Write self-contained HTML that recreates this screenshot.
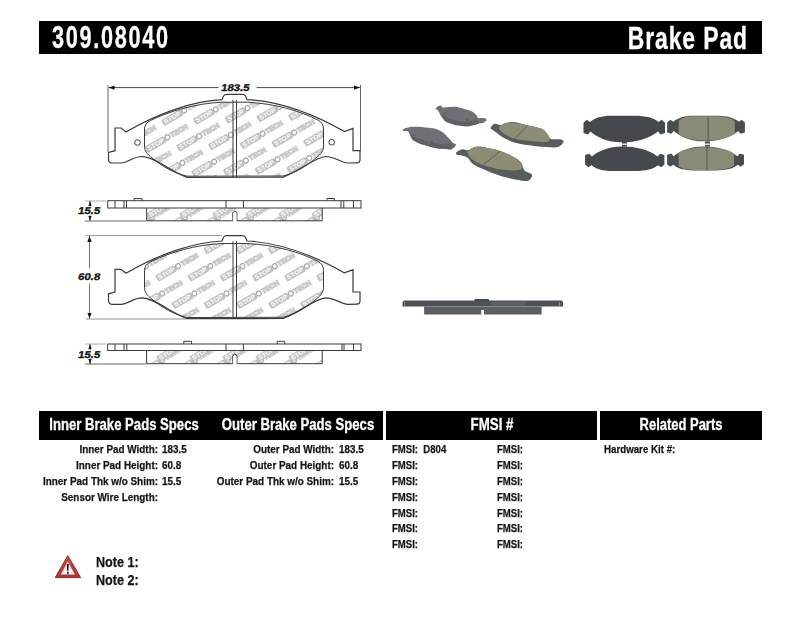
<!DOCTYPE html>
<html><head><meta charset="utf-8">
<style>
html,body{margin:0;padding:0;background:#fff;}
body{width:800px;height:619px;position:relative;overflow:hidden;font-family:"Liberation Sans",sans-serif;}
.bar{position:absolute;background:#000;}
.t{position:absolute;white-space:nowrap;font-family:"Liberation Sans",sans-serif;font-weight:bold;line-height:1;}
.w{color:#fff;-webkit-text-stroke:0.3px #fff;}
.k{color:#141414;-webkit-text-stroke:0.25px #141414;}
.c{text-align:center;transform-origin:50% 0;}
.r{text-align:right;transform-origin:100% 0;}
.l{transform-origin:0 0;}
svg{position:absolute;left:0;top:0;}
</style></head><body>
<svg width="800" height="619" viewBox="0 0 800 619">
<defs>
  <path id="pad" d="M115,128 L121,128 L126,132 C160,112 195,101 222,99.7 L223.5,96 Q224.5,94.4 227,94.4 L242,94.4 Q244.5,94.4 245.5,96 L247,99.7 C275,101 310,112 344.5,131.6 L353,128.4 L353,150.7 L360,150.7 L360,159.5 Q360,162.8 357,162.8 L348,163 C341,163 335,156.5 326,156.5 C315,157 300,171 283,177.2 L187,177.4 C170,171 155,157 142,156.5 C133,156.5 128,163 121,163 L112,163 Q108.5,163 108.5,159 L108.5,152.5 L115,150.7 Z"/>
  <path id="fric" d="M150.5,120.5 C170,111 195,103.5 222,102.2 L247,102.2 C275,103.5 300,111 318,120 Q323.5,123 323.5,129 L323.5,146 C323.5,151 321,154 316,158 C305,167 295,173 283,176 L187,176.2 C174,173 163,167 152,158 C147,154 144.5,151 144.5,146 L144.5,129 Q144.5,123.5 150.5,120.5 Z"/>
  <clipPath id="fc1"><use href="#fric"/></clipPath>
  <clipPath id="fc2"><use href="#fric" transform="translate(0,141.3)"/></clipPath>
  <clipPath id="fcA"><rect x="146.6" y="208" width="175.6" height="12.8"/></clipPath>
  <clipPath id="fcB"><rect x="146.6" y="350.5" width="175.6" height="13.2"/></clipPath>
  <marker id="ar" viewBox="0 0 6 6" refX="6" refY="3" markerWidth="6" markerHeight="6" orient="auto-start-reverse" markerUnits="userSpaceOnUse"><path d="M0,0.8 L6,3 L0,5.2 Z" fill="#111"/></marker><marker id="as" viewBox="0 0 5 4" refX="5" refY="2" markerWidth="5" markerHeight="4" orient="auto-start-reverse" markerUnits="userSpaceOnUse"><path d="M0,0.3 L5,2 L0,3.7 Z" fill="#111"/></marker>
</defs>

<!-- ===== Drawing 1 ===== -->
<g clip-path="url(#fc1)"><g transform="translate(99.6,180.4) rotate(-30) scale(1.08)"><rect x="0" y="-5.8" width="19.5" height="5.8" rx="0.8" fill="#c4c4c4" stroke="#acacac" stroke-width="0.5"/><text x="1.3" y="-1" font-family="Liberation Sans" font-weight="bold" font-size="5.8" fill="#fff" textLength="17" lengthAdjust="spacingAndGlyphs">STOP</text><circle cx="22.6" cy="-3.1" r="2.3" fill="#fff" stroke="#acacac" stroke-width="1.3"/><rect x="25.6" y="-6" width="19" height="5.8" fill="#f2f2f2"/><text x="26" y="-0.9" font-family="Liberation Sans" font-weight="bold" font-size="6.4" fill="#fbfbfb" stroke="#c0c0c0" stroke-width="0.65" textLength="17.5" lengthAdjust="spacingAndGlyphs">TECH</text></g><g transform="translate(101.3,128) rotate(-30) scale(1.08)"><rect x="0" y="-5.8" width="19.5" height="5.8" rx="0.8" fill="#c4c4c4" stroke="#acacac" stroke-width="0.5"/><text x="1.3" y="-1" font-family="Liberation Sans" font-weight="bold" font-size="5.8" fill="#fff" textLength="17" lengthAdjust="spacingAndGlyphs">STOP</text><circle cx="22.6" cy="-3.1" r="2.3" fill="#fff" stroke="#acacac" stroke-width="1.3"/><rect x="25.6" y="-6" width="19" height="5.8" fill="#f2f2f2"/><text x="26" y="-0.9" font-family="Liberation Sans" font-weight="bold" font-size="6.4" fill="#fbfbfb" stroke="#c0c0c0" stroke-width="0.65" textLength="17.5" lengthAdjust="spacingAndGlyphs">TECH</text></g><g transform="translate(116.3,153.6) rotate(-30) scale(1.08)"><rect x="0" y="-5.8" width="19.5" height="5.8" rx="0.8" fill="#c4c4c4" stroke="#acacac" stroke-width="0.5"/><text x="1.3" y="-1" font-family="Liberation Sans" font-weight="bold" font-size="5.8" fill="#fff" textLength="17" lengthAdjust="spacingAndGlyphs">STOP</text><circle cx="22.6" cy="-3.1" r="2.3" fill="#fff" stroke="#acacac" stroke-width="1.3"/><rect x="25.6" y="-6" width="19" height="5.8" fill="#f2f2f2"/><text x="26" y="-0.9" font-family="Liberation Sans" font-weight="bold" font-size="6.4" fill="#fbfbfb" stroke="#c0c0c0" stroke-width="0.65" textLength="17.5" lengthAdjust="spacingAndGlyphs">TECH</text></g><g transform="translate(131.3,179.2) rotate(-30) scale(1.08)"><rect x="0" y="-5.8" width="19.5" height="5.8" rx="0.8" fill="#c4c4c4" stroke="#acacac" stroke-width="0.5"/><text x="1.3" y="-1" font-family="Liberation Sans" font-weight="bold" font-size="5.8" fill="#fff" textLength="17" lengthAdjust="spacingAndGlyphs">STOP</text><circle cx="22.6" cy="-3.1" r="2.3" fill="#fff" stroke="#acacac" stroke-width="1.3"/><rect x="25.6" y="-6" width="19" height="5.8" fill="#f2f2f2"/><text x="26" y="-0.9" font-family="Liberation Sans" font-weight="bold" font-size="6.4" fill="#fbfbfb" stroke="#c0c0c0" stroke-width="0.65" textLength="17.5" lengthAdjust="spacingAndGlyphs">TECH</text></g><g transform="translate(146.3,204.8) rotate(-30) scale(1.08)"><rect x="0" y="-5.8" width="19.5" height="5.8" rx="0.8" fill="#c4c4c4" stroke="#acacac" stroke-width="0.5"/><text x="1.3" y="-1" font-family="Liberation Sans" font-weight="bold" font-size="5.8" fill="#fff" textLength="17" lengthAdjust="spacingAndGlyphs">STOP</text><circle cx="22.6" cy="-3.1" r="2.3" fill="#fff" stroke="#acacac" stroke-width="1.3"/><rect x="25.6" y="-6" width="19" height="5.8" fill="#f2f2f2"/><text x="26" y="-0.9" font-family="Liberation Sans" font-weight="bold" font-size="6.4" fill="#fbfbfb" stroke="#c0c0c0" stroke-width="0.65" textLength="17.5" lengthAdjust="spacingAndGlyphs">TECH</text></g><g transform="translate(118,101.2) rotate(-30) scale(1.08)"><rect x="0" y="-5.8" width="19.5" height="5.8" rx="0.8" fill="#c4c4c4" stroke="#acacac" stroke-width="0.5"/><text x="1.3" y="-1" font-family="Liberation Sans" font-weight="bold" font-size="5.8" fill="#fff" textLength="17" lengthAdjust="spacingAndGlyphs">STOP</text><circle cx="22.6" cy="-3.1" r="2.3" fill="#fff" stroke="#acacac" stroke-width="1.3"/><rect x="25.6" y="-6" width="19" height="5.8" fill="#f2f2f2"/><text x="26" y="-0.9" font-family="Liberation Sans" font-weight="bold" font-size="6.4" fill="#fbfbfb" stroke="#c0c0c0" stroke-width="0.65" textLength="17.5" lengthAdjust="spacingAndGlyphs">TECH</text></g><g transform="translate(133,126.8) rotate(-30) scale(1.08)"><rect x="0" y="-5.8" width="19.5" height="5.8" rx="0.8" fill="#c4c4c4" stroke="#acacac" stroke-width="0.5"/><text x="1.3" y="-1" font-family="Liberation Sans" font-weight="bold" font-size="5.8" fill="#fff" textLength="17" lengthAdjust="spacingAndGlyphs">STOP</text><circle cx="22.6" cy="-3.1" r="2.3" fill="#fff" stroke="#acacac" stroke-width="1.3"/><rect x="25.6" y="-6" width="19" height="5.8" fill="#f2f2f2"/><text x="26" y="-0.9" font-family="Liberation Sans" font-weight="bold" font-size="6.4" fill="#fbfbfb" stroke="#c0c0c0" stroke-width="0.65" textLength="17.5" lengthAdjust="spacingAndGlyphs">TECH</text></g><g transform="translate(148,152.4) rotate(-30) scale(1.08)"><rect x="0" y="-5.8" width="19.5" height="5.8" rx="0.8" fill="#c4c4c4" stroke="#acacac" stroke-width="0.5"/><text x="1.3" y="-1" font-family="Liberation Sans" font-weight="bold" font-size="5.8" fill="#fff" textLength="17" lengthAdjust="spacingAndGlyphs">STOP</text><circle cx="22.6" cy="-3.1" r="2.3" fill="#fff" stroke="#acacac" stroke-width="1.3"/><rect x="25.6" y="-6" width="19" height="5.8" fill="#f2f2f2"/><text x="26" y="-0.9" font-family="Liberation Sans" font-weight="bold" font-size="6.4" fill="#fbfbfb" stroke="#c0c0c0" stroke-width="0.65" textLength="17.5" lengthAdjust="spacingAndGlyphs">TECH</text></g><g transform="translate(163,178) rotate(-30) scale(1.08)"><rect x="0" y="-5.8" width="19.5" height="5.8" rx="0.8" fill="#c4c4c4" stroke="#acacac" stroke-width="0.5"/><text x="1.3" y="-1" font-family="Liberation Sans" font-weight="bold" font-size="5.8" fill="#fff" textLength="17" lengthAdjust="spacingAndGlyphs">STOP</text><circle cx="22.6" cy="-3.1" r="2.3" fill="#fff" stroke="#acacac" stroke-width="1.3"/><rect x="25.6" y="-6" width="19" height="5.8" fill="#f2f2f2"/><text x="26" y="-0.9" font-family="Liberation Sans" font-weight="bold" font-size="6.4" fill="#fbfbfb" stroke="#c0c0c0" stroke-width="0.65" textLength="17.5" lengthAdjust="spacingAndGlyphs">TECH</text></g><g transform="translate(178,203.6) rotate(-30) scale(1.08)"><rect x="0" y="-5.8" width="19.5" height="5.8" rx="0.8" fill="#c4c4c4" stroke="#acacac" stroke-width="0.5"/><text x="1.3" y="-1" font-family="Liberation Sans" font-weight="bold" font-size="5.8" fill="#fff" textLength="17" lengthAdjust="spacingAndGlyphs">STOP</text><circle cx="22.6" cy="-3.1" r="2.3" fill="#fff" stroke="#acacac" stroke-width="1.3"/><rect x="25.6" y="-6" width="19" height="5.8" fill="#f2f2f2"/><text x="26" y="-0.9" font-family="Liberation Sans" font-weight="bold" font-size="6.4" fill="#fbfbfb" stroke="#c0c0c0" stroke-width="0.65" textLength="17.5" lengthAdjust="spacingAndGlyphs">TECH</text></g><g transform="translate(149.7,100) rotate(-30) scale(1.08)"><rect x="0" y="-5.8" width="19.5" height="5.8" rx="0.8" fill="#c4c4c4" stroke="#acacac" stroke-width="0.5"/><text x="1.3" y="-1" font-family="Liberation Sans" font-weight="bold" font-size="5.8" fill="#fff" textLength="17" lengthAdjust="spacingAndGlyphs">STOP</text><circle cx="22.6" cy="-3.1" r="2.3" fill="#fff" stroke="#acacac" stroke-width="1.3"/><rect x="25.6" y="-6" width="19" height="5.8" fill="#f2f2f2"/><text x="26" y="-0.9" font-family="Liberation Sans" font-weight="bold" font-size="6.4" fill="#fbfbfb" stroke="#c0c0c0" stroke-width="0.65" textLength="17.5" lengthAdjust="spacingAndGlyphs">TECH</text></g><g transform="translate(164.7,125.6) rotate(-30) scale(1.08)"><rect x="0" y="-5.8" width="19.5" height="5.8" rx="0.8" fill="#c4c4c4" stroke="#acacac" stroke-width="0.5"/><text x="1.3" y="-1" font-family="Liberation Sans" font-weight="bold" font-size="5.8" fill="#fff" textLength="17" lengthAdjust="spacingAndGlyphs">STOP</text><circle cx="22.6" cy="-3.1" r="2.3" fill="#fff" stroke="#acacac" stroke-width="1.3"/><rect x="25.6" y="-6" width="19" height="5.8" fill="#f2f2f2"/><text x="26" y="-0.9" font-family="Liberation Sans" font-weight="bold" font-size="6.4" fill="#fbfbfb" stroke="#c0c0c0" stroke-width="0.65" textLength="17.5" lengthAdjust="spacingAndGlyphs">TECH</text></g><g transform="translate(179.7,151.2) rotate(-30) scale(1.08)"><rect x="0" y="-5.8" width="19.5" height="5.8" rx="0.8" fill="#c4c4c4" stroke="#acacac" stroke-width="0.5"/><text x="1.3" y="-1" font-family="Liberation Sans" font-weight="bold" font-size="5.8" fill="#fff" textLength="17" lengthAdjust="spacingAndGlyphs">STOP</text><circle cx="22.6" cy="-3.1" r="2.3" fill="#fff" stroke="#acacac" stroke-width="1.3"/><rect x="25.6" y="-6" width="19" height="5.8" fill="#f2f2f2"/><text x="26" y="-0.9" font-family="Liberation Sans" font-weight="bold" font-size="6.4" fill="#fbfbfb" stroke="#c0c0c0" stroke-width="0.65" textLength="17.5" lengthAdjust="spacingAndGlyphs">TECH</text></g><g transform="translate(194.7,176.8) rotate(-30) scale(1.08)"><rect x="0" y="-5.8" width="19.5" height="5.8" rx="0.8" fill="#c4c4c4" stroke="#acacac" stroke-width="0.5"/><text x="1.3" y="-1" font-family="Liberation Sans" font-weight="bold" font-size="5.8" fill="#fff" textLength="17" lengthAdjust="spacingAndGlyphs">STOP</text><circle cx="22.6" cy="-3.1" r="2.3" fill="#fff" stroke="#acacac" stroke-width="1.3"/><rect x="25.6" y="-6" width="19" height="5.8" fill="#f2f2f2"/><text x="26" y="-0.9" font-family="Liberation Sans" font-weight="bold" font-size="6.4" fill="#fbfbfb" stroke="#c0c0c0" stroke-width="0.65" textLength="17.5" lengthAdjust="spacingAndGlyphs">TECH</text></g><g transform="translate(209.7,202.4) rotate(-30) scale(1.08)"><rect x="0" y="-5.8" width="19.5" height="5.8" rx="0.8" fill="#c4c4c4" stroke="#acacac" stroke-width="0.5"/><text x="1.3" y="-1" font-family="Liberation Sans" font-weight="bold" font-size="5.8" fill="#fff" textLength="17" lengthAdjust="spacingAndGlyphs">STOP</text><circle cx="22.6" cy="-3.1" r="2.3" fill="#fff" stroke="#acacac" stroke-width="1.3"/><rect x="25.6" y="-6" width="19" height="5.8" fill="#f2f2f2"/><text x="26" y="-0.9" font-family="Liberation Sans" font-weight="bold" font-size="6.4" fill="#fbfbfb" stroke="#c0c0c0" stroke-width="0.65" textLength="17.5" lengthAdjust="spacingAndGlyphs">TECH</text></g><g transform="translate(181.4,98.8) rotate(-30) scale(1.08)"><rect x="0" y="-5.8" width="19.5" height="5.8" rx="0.8" fill="#c4c4c4" stroke="#acacac" stroke-width="0.5"/><text x="1.3" y="-1" font-family="Liberation Sans" font-weight="bold" font-size="5.8" fill="#fff" textLength="17" lengthAdjust="spacingAndGlyphs">STOP</text><circle cx="22.6" cy="-3.1" r="2.3" fill="#fff" stroke="#acacac" stroke-width="1.3"/><rect x="25.6" y="-6" width="19" height="5.8" fill="#f2f2f2"/><text x="26" y="-0.9" font-family="Liberation Sans" font-weight="bold" font-size="6.4" fill="#fbfbfb" stroke="#c0c0c0" stroke-width="0.65" textLength="17.5" lengthAdjust="spacingAndGlyphs">TECH</text></g><g transform="translate(196.4,124.4) rotate(-30) scale(1.08)"><rect x="0" y="-5.8" width="19.5" height="5.8" rx="0.8" fill="#c4c4c4" stroke="#acacac" stroke-width="0.5"/><text x="1.3" y="-1" font-family="Liberation Sans" font-weight="bold" font-size="5.8" fill="#fff" textLength="17" lengthAdjust="spacingAndGlyphs">STOP</text><circle cx="22.6" cy="-3.1" r="2.3" fill="#fff" stroke="#acacac" stroke-width="1.3"/><rect x="25.6" y="-6" width="19" height="5.8" fill="#f2f2f2"/><text x="26" y="-0.9" font-family="Liberation Sans" font-weight="bold" font-size="6.4" fill="#fbfbfb" stroke="#c0c0c0" stroke-width="0.65" textLength="17.5" lengthAdjust="spacingAndGlyphs">TECH</text></g><g transform="translate(211.4,150) rotate(-30) scale(1.08)"><rect x="0" y="-5.8" width="19.5" height="5.8" rx="0.8" fill="#c4c4c4" stroke="#acacac" stroke-width="0.5"/><text x="1.3" y="-1" font-family="Liberation Sans" font-weight="bold" font-size="5.8" fill="#fff" textLength="17" lengthAdjust="spacingAndGlyphs">STOP</text><circle cx="22.6" cy="-3.1" r="2.3" fill="#fff" stroke="#acacac" stroke-width="1.3"/><rect x="25.6" y="-6" width="19" height="5.8" fill="#f2f2f2"/><text x="26" y="-0.9" font-family="Liberation Sans" font-weight="bold" font-size="6.4" fill="#fbfbfb" stroke="#c0c0c0" stroke-width="0.65" textLength="17.5" lengthAdjust="spacingAndGlyphs">TECH</text></g><g transform="translate(226.4,175.6) rotate(-30) scale(1.08)"><rect x="0" y="-5.8" width="19.5" height="5.8" rx="0.8" fill="#c4c4c4" stroke="#acacac" stroke-width="0.5"/><text x="1.3" y="-1" font-family="Liberation Sans" font-weight="bold" font-size="5.8" fill="#fff" textLength="17" lengthAdjust="spacingAndGlyphs">STOP</text><circle cx="22.6" cy="-3.1" r="2.3" fill="#fff" stroke="#acacac" stroke-width="1.3"/><rect x="25.6" y="-6" width="19" height="5.8" fill="#f2f2f2"/><text x="26" y="-0.9" font-family="Liberation Sans" font-weight="bold" font-size="6.4" fill="#fbfbfb" stroke="#c0c0c0" stroke-width="0.65" textLength="17.5" lengthAdjust="spacingAndGlyphs">TECH</text></g><g transform="translate(241.4,201.2) rotate(-30) scale(1.08)"><rect x="0" y="-5.8" width="19.5" height="5.8" rx="0.8" fill="#c4c4c4" stroke="#acacac" stroke-width="0.5"/><text x="1.3" y="-1" font-family="Liberation Sans" font-weight="bold" font-size="5.8" fill="#fff" textLength="17" lengthAdjust="spacingAndGlyphs">STOP</text><circle cx="22.6" cy="-3.1" r="2.3" fill="#fff" stroke="#acacac" stroke-width="1.3"/><rect x="25.6" y="-6" width="19" height="5.8" fill="#f2f2f2"/><text x="26" y="-0.9" font-family="Liberation Sans" font-weight="bold" font-size="6.4" fill="#fbfbfb" stroke="#c0c0c0" stroke-width="0.65" textLength="17.5" lengthAdjust="spacingAndGlyphs">TECH</text></g><g transform="translate(213.1,97.6) rotate(-30) scale(1.08)"><rect x="0" y="-5.8" width="19.5" height="5.8" rx="0.8" fill="#c4c4c4" stroke="#acacac" stroke-width="0.5"/><text x="1.3" y="-1" font-family="Liberation Sans" font-weight="bold" font-size="5.8" fill="#fff" textLength="17" lengthAdjust="spacingAndGlyphs">STOP</text><circle cx="22.6" cy="-3.1" r="2.3" fill="#fff" stroke="#acacac" stroke-width="1.3"/><rect x="25.6" y="-6" width="19" height="5.8" fill="#f2f2f2"/><text x="26" y="-0.9" font-family="Liberation Sans" font-weight="bold" font-size="6.4" fill="#fbfbfb" stroke="#c0c0c0" stroke-width="0.65" textLength="17.5" lengthAdjust="spacingAndGlyphs">TECH</text></g><g transform="translate(228.1,123.2) rotate(-30) scale(1.08)"><rect x="0" y="-5.8" width="19.5" height="5.8" rx="0.8" fill="#c4c4c4" stroke="#acacac" stroke-width="0.5"/><text x="1.3" y="-1" font-family="Liberation Sans" font-weight="bold" font-size="5.8" fill="#fff" textLength="17" lengthAdjust="spacingAndGlyphs">STOP</text><circle cx="22.6" cy="-3.1" r="2.3" fill="#fff" stroke="#acacac" stroke-width="1.3"/><rect x="25.6" y="-6" width="19" height="5.8" fill="#f2f2f2"/><text x="26" y="-0.9" font-family="Liberation Sans" font-weight="bold" font-size="6.4" fill="#fbfbfb" stroke="#c0c0c0" stroke-width="0.65" textLength="17.5" lengthAdjust="spacingAndGlyphs">TECH</text></g><g transform="translate(243.1,148.8) rotate(-30) scale(1.08)"><rect x="0" y="-5.8" width="19.5" height="5.8" rx="0.8" fill="#c4c4c4" stroke="#acacac" stroke-width="0.5"/><text x="1.3" y="-1" font-family="Liberation Sans" font-weight="bold" font-size="5.8" fill="#fff" textLength="17" lengthAdjust="spacingAndGlyphs">STOP</text><circle cx="22.6" cy="-3.1" r="2.3" fill="#fff" stroke="#acacac" stroke-width="1.3"/><rect x="25.6" y="-6" width="19" height="5.8" fill="#f2f2f2"/><text x="26" y="-0.9" font-family="Liberation Sans" font-weight="bold" font-size="6.4" fill="#fbfbfb" stroke="#c0c0c0" stroke-width="0.65" textLength="17.5" lengthAdjust="spacingAndGlyphs">TECH</text></g><g transform="translate(258.1,174.4) rotate(-30) scale(1.08)"><rect x="0" y="-5.8" width="19.5" height="5.8" rx="0.8" fill="#c4c4c4" stroke="#acacac" stroke-width="0.5"/><text x="1.3" y="-1" font-family="Liberation Sans" font-weight="bold" font-size="5.8" fill="#fff" textLength="17" lengthAdjust="spacingAndGlyphs">STOP</text><circle cx="22.6" cy="-3.1" r="2.3" fill="#fff" stroke="#acacac" stroke-width="1.3"/><rect x="25.6" y="-6" width="19" height="5.8" fill="#f2f2f2"/><text x="26" y="-0.9" font-family="Liberation Sans" font-weight="bold" font-size="6.4" fill="#fbfbfb" stroke="#c0c0c0" stroke-width="0.65" textLength="17.5" lengthAdjust="spacingAndGlyphs">TECH</text></g><g transform="translate(273.1,200) rotate(-30) scale(1.08)"><rect x="0" y="-5.8" width="19.5" height="5.8" rx="0.8" fill="#c4c4c4" stroke="#acacac" stroke-width="0.5"/><text x="1.3" y="-1" font-family="Liberation Sans" font-weight="bold" font-size="5.8" fill="#fff" textLength="17" lengthAdjust="spacingAndGlyphs">STOP</text><circle cx="22.6" cy="-3.1" r="2.3" fill="#fff" stroke="#acacac" stroke-width="1.3"/><rect x="25.6" y="-6" width="19" height="5.8" fill="#f2f2f2"/><text x="26" y="-0.9" font-family="Liberation Sans" font-weight="bold" font-size="6.4" fill="#fbfbfb" stroke="#c0c0c0" stroke-width="0.65" textLength="17.5" lengthAdjust="spacingAndGlyphs">TECH</text></g><g transform="translate(244.8,96.4) rotate(-30) scale(1.08)"><rect x="0" y="-5.8" width="19.5" height="5.8" rx="0.8" fill="#c4c4c4" stroke="#acacac" stroke-width="0.5"/><text x="1.3" y="-1" font-family="Liberation Sans" font-weight="bold" font-size="5.8" fill="#fff" textLength="17" lengthAdjust="spacingAndGlyphs">STOP</text><circle cx="22.6" cy="-3.1" r="2.3" fill="#fff" stroke="#acacac" stroke-width="1.3"/><rect x="25.6" y="-6" width="19" height="5.8" fill="#f2f2f2"/><text x="26" y="-0.9" font-family="Liberation Sans" font-weight="bold" font-size="6.4" fill="#fbfbfb" stroke="#c0c0c0" stroke-width="0.65" textLength="17.5" lengthAdjust="spacingAndGlyphs">TECH</text></g><g transform="translate(259.8,122) rotate(-30) scale(1.08)"><rect x="0" y="-5.8" width="19.5" height="5.8" rx="0.8" fill="#c4c4c4" stroke="#acacac" stroke-width="0.5"/><text x="1.3" y="-1" font-family="Liberation Sans" font-weight="bold" font-size="5.8" fill="#fff" textLength="17" lengthAdjust="spacingAndGlyphs">STOP</text><circle cx="22.6" cy="-3.1" r="2.3" fill="#fff" stroke="#acacac" stroke-width="1.3"/><rect x="25.6" y="-6" width="19" height="5.8" fill="#f2f2f2"/><text x="26" y="-0.9" font-family="Liberation Sans" font-weight="bold" font-size="6.4" fill="#fbfbfb" stroke="#c0c0c0" stroke-width="0.65" textLength="17.5" lengthAdjust="spacingAndGlyphs">TECH</text></g><g transform="translate(274.8,147.6) rotate(-30) scale(1.08)"><rect x="0" y="-5.8" width="19.5" height="5.8" rx="0.8" fill="#c4c4c4" stroke="#acacac" stroke-width="0.5"/><text x="1.3" y="-1" font-family="Liberation Sans" font-weight="bold" font-size="5.8" fill="#fff" textLength="17" lengthAdjust="spacingAndGlyphs">STOP</text><circle cx="22.6" cy="-3.1" r="2.3" fill="#fff" stroke="#acacac" stroke-width="1.3"/><rect x="25.6" y="-6" width="19" height="5.8" fill="#f2f2f2"/><text x="26" y="-0.9" font-family="Liberation Sans" font-weight="bold" font-size="6.4" fill="#fbfbfb" stroke="#c0c0c0" stroke-width="0.65" textLength="17.5" lengthAdjust="spacingAndGlyphs">TECH</text></g><g transform="translate(289.8,173.2) rotate(-30) scale(1.08)"><rect x="0" y="-5.8" width="19.5" height="5.8" rx="0.8" fill="#c4c4c4" stroke="#acacac" stroke-width="0.5"/><text x="1.3" y="-1" font-family="Liberation Sans" font-weight="bold" font-size="5.8" fill="#fff" textLength="17" lengthAdjust="spacingAndGlyphs">STOP</text><circle cx="22.6" cy="-3.1" r="2.3" fill="#fff" stroke="#acacac" stroke-width="1.3"/><rect x="25.6" y="-6" width="19" height="5.8" fill="#f2f2f2"/><text x="26" y="-0.9" font-family="Liberation Sans" font-weight="bold" font-size="6.4" fill="#fbfbfb" stroke="#c0c0c0" stroke-width="0.65" textLength="17.5" lengthAdjust="spacingAndGlyphs">TECH</text></g><g transform="translate(304.8,198.8) rotate(-30) scale(1.08)"><rect x="0" y="-5.8" width="19.5" height="5.8" rx="0.8" fill="#c4c4c4" stroke="#acacac" stroke-width="0.5"/><text x="1.3" y="-1" font-family="Liberation Sans" font-weight="bold" font-size="5.8" fill="#fff" textLength="17" lengthAdjust="spacingAndGlyphs">STOP</text><circle cx="22.6" cy="-3.1" r="2.3" fill="#fff" stroke="#acacac" stroke-width="1.3"/><rect x="25.6" y="-6" width="19" height="5.8" fill="#f2f2f2"/><text x="26" y="-0.9" font-family="Liberation Sans" font-weight="bold" font-size="6.4" fill="#fbfbfb" stroke="#c0c0c0" stroke-width="0.65" textLength="17.5" lengthAdjust="spacingAndGlyphs">TECH</text></g><g transform="translate(276.5,95.2) rotate(-30) scale(1.08)"><rect x="0" y="-5.8" width="19.5" height="5.8" rx="0.8" fill="#c4c4c4" stroke="#acacac" stroke-width="0.5"/><text x="1.3" y="-1" font-family="Liberation Sans" font-weight="bold" font-size="5.8" fill="#fff" textLength="17" lengthAdjust="spacingAndGlyphs">STOP</text><circle cx="22.6" cy="-3.1" r="2.3" fill="#fff" stroke="#acacac" stroke-width="1.3"/><rect x="25.6" y="-6" width="19" height="5.8" fill="#f2f2f2"/><text x="26" y="-0.9" font-family="Liberation Sans" font-weight="bold" font-size="6.4" fill="#fbfbfb" stroke="#c0c0c0" stroke-width="0.65" textLength="17.5" lengthAdjust="spacingAndGlyphs">TECH</text></g><g transform="translate(291.5,120.8) rotate(-30) scale(1.08)"><rect x="0" y="-5.8" width="19.5" height="5.8" rx="0.8" fill="#c4c4c4" stroke="#acacac" stroke-width="0.5"/><text x="1.3" y="-1" font-family="Liberation Sans" font-weight="bold" font-size="5.8" fill="#fff" textLength="17" lengthAdjust="spacingAndGlyphs">STOP</text><circle cx="22.6" cy="-3.1" r="2.3" fill="#fff" stroke="#acacac" stroke-width="1.3"/><rect x="25.6" y="-6" width="19" height="5.8" fill="#f2f2f2"/><text x="26" y="-0.9" font-family="Liberation Sans" font-weight="bold" font-size="6.4" fill="#fbfbfb" stroke="#c0c0c0" stroke-width="0.65" textLength="17.5" lengthAdjust="spacingAndGlyphs">TECH</text></g><g transform="translate(306.5,146.4) rotate(-30) scale(1.08)"><rect x="0" y="-5.8" width="19.5" height="5.8" rx="0.8" fill="#c4c4c4" stroke="#acacac" stroke-width="0.5"/><text x="1.3" y="-1" font-family="Liberation Sans" font-weight="bold" font-size="5.8" fill="#fff" textLength="17" lengthAdjust="spacingAndGlyphs">STOP</text><circle cx="22.6" cy="-3.1" r="2.3" fill="#fff" stroke="#acacac" stroke-width="1.3"/><rect x="25.6" y="-6" width="19" height="5.8" fill="#f2f2f2"/><text x="26" y="-0.9" font-family="Liberation Sans" font-weight="bold" font-size="6.4" fill="#fbfbfb" stroke="#c0c0c0" stroke-width="0.65" textLength="17.5" lengthAdjust="spacingAndGlyphs">TECH</text></g><g transform="translate(321.5,172) rotate(-30) scale(1.08)"><rect x="0" y="-5.8" width="19.5" height="5.8" rx="0.8" fill="#c4c4c4" stroke="#acacac" stroke-width="0.5"/><text x="1.3" y="-1" font-family="Liberation Sans" font-weight="bold" font-size="5.8" fill="#fff" textLength="17" lengthAdjust="spacingAndGlyphs">STOP</text><circle cx="22.6" cy="-3.1" r="2.3" fill="#fff" stroke="#acacac" stroke-width="1.3"/><rect x="25.6" y="-6" width="19" height="5.8" fill="#f2f2f2"/><text x="26" y="-0.9" font-family="Liberation Sans" font-weight="bold" font-size="6.4" fill="#fbfbfb" stroke="#c0c0c0" stroke-width="0.65" textLength="17.5" lengthAdjust="spacingAndGlyphs">TECH</text></g><g transform="translate(308.2,94) rotate(-30) scale(1.08)"><rect x="0" y="-5.8" width="19.5" height="5.8" rx="0.8" fill="#c4c4c4" stroke="#acacac" stroke-width="0.5"/><text x="1.3" y="-1" font-family="Liberation Sans" font-weight="bold" font-size="5.8" fill="#fff" textLength="17" lengthAdjust="spacingAndGlyphs">STOP</text><circle cx="22.6" cy="-3.1" r="2.3" fill="#fff" stroke="#acacac" stroke-width="1.3"/><rect x="25.6" y="-6" width="19" height="5.8" fill="#f2f2f2"/><text x="26" y="-0.9" font-family="Liberation Sans" font-weight="bold" font-size="6.4" fill="#fbfbfb" stroke="#c0c0c0" stroke-width="0.65" textLength="17.5" lengthAdjust="spacingAndGlyphs">TECH</text></g><g transform="translate(323.2,119.6) rotate(-30) scale(1.08)"><rect x="0" y="-5.8" width="19.5" height="5.8" rx="0.8" fill="#c4c4c4" stroke="#acacac" stroke-width="0.5"/><text x="1.3" y="-1" font-family="Liberation Sans" font-weight="bold" font-size="5.8" fill="#fff" textLength="17" lengthAdjust="spacingAndGlyphs">STOP</text><circle cx="22.6" cy="-3.1" r="2.3" fill="#fff" stroke="#acacac" stroke-width="1.3"/><rect x="25.6" y="-6" width="19" height="5.8" fill="#f2f2f2"/><text x="26" y="-0.9" font-family="Liberation Sans" font-weight="bold" font-size="6.4" fill="#fbfbfb" stroke="#c0c0c0" stroke-width="0.65" textLength="17.5" lengthAdjust="spacingAndGlyphs">TECH</text></g></g>
<g fill="none" stroke="#3a3a3a">
  <use href="#fric" stroke-width="1"/>
  <use href="#pad" stroke-width="1.2"/>
  <line x1="233" y1="100" x2="233" y2="177" stroke-width="1"/>
  <line x1="236.5" y1="100" x2="236.5" y2="177" stroke-width="1"/>
  <circle cx="137.5" cy="142.5" r="2.8" fill="#fff" stroke-width="1"/>
  <circle cx="331.7" cy="142.2" r="2.8" fill="#fff" stroke-width="1"/>
</g>
<line x1="108" y1="85" x2="108" y2="152" stroke="#555" stroke-width="0.9"/>
<line x1="360.5" y1="85" x2="360.5" y2="151" stroke="#555" stroke-width="0.9"/>
<line x1="108.5" y1="87.6" x2="218.5" y2="87.6" stroke="#333" stroke-width="0.9" marker-start="url(#ar)"/>
<line x1="256.5" y1="87.6" x2="360" y2="87.6" stroke="#333" stroke-width="0.9" marker-end="url(#ar)"/>

<!-- ===== Drawing 2 ===== -->
<g clip-path="url(#fc2)"><g transform="translate(110.5,308.6) rotate(-30) scale(1.08)"><rect x="0" y="-5.8" width="19.5" height="5.8" rx="0.8" fill="#c4c4c4" stroke="#acacac" stroke-width="0.5"/><text x="1.3" y="-1" font-family="Liberation Sans" font-weight="bold" font-size="5.8" fill="#fff" textLength="17" lengthAdjust="spacingAndGlyphs">STOP</text><circle cx="22.6" cy="-3.1" r="2.3" fill="#fff" stroke="#acacac" stroke-width="1.3"/><rect x="25.6" y="-6" width="19" height="5.8" fill="#f2f2f2"/><text x="26" y="-0.9" font-family="Liberation Sans" font-weight="bold" font-size="6.4" fill="#fbfbfb" stroke="#c0c0c0" stroke-width="0.65" textLength="17.5" lengthAdjust="spacingAndGlyphs">TECH</text></g><g transform="translate(126.75,335.9) rotate(-30) scale(1.08)"><rect x="0" y="-5.8" width="19.5" height="5.8" rx="0.8" fill="#c4c4c4" stroke="#acacac" stroke-width="0.5"/><text x="1.3" y="-1" font-family="Liberation Sans" font-weight="bold" font-size="5.8" fill="#fff" textLength="17" lengthAdjust="spacingAndGlyphs">STOP</text><circle cx="22.6" cy="-3.1" r="2.3" fill="#fff" stroke="#acacac" stroke-width="1.3"/><rect x="25.6" y="-6" width="19" height="5.8" fill="#f2f2f2"/><text x="26" y="-0.9" font-family="Liberation Sans" font-weight="bold" font-size="6.4" fill="#fbfbfb" stroke="#c0c0c0" stroke-width="0.65" textLength="17.5" lengthAdjust="spacingAndGlyphs">TECH</text></g><g transform="translate(110.2,254) rotate(-30) scale(1.08)"><rect x="0" y="-5.8" width="19.5" height="5.8" rx="0.8" fill="#c4c4c4" stroke="#acacac" stroke-width="0.5"/><text x="1.3" y="-1" font-family="Liberation Sans" font-weight="bold" font-size="5.8" fill="#fff" textLength="17" lengthAdjust="spacingAndGlyphs">STOP</text><circle cx="22.6" cy="-3.1" r="2.3" fill="#fff" stroke="#acacac" stroke-width="1.3"/><rect x="25.6" y="-6" width="19" height="5.8" fill="#f2f2f2"/><text x="26" y="-0.9" font-family="Liberation Sans" font-weight="bold" font-size="6.4" fill="#fbfbfb" stroke="#c0c0c0" stroke-width="0.65" textLength="17.5" lengthAdjust="spacingAndGlyphs">TECH</text></g><g transform="translate(126.45,281.3) rotate(-30) scale(1.08)"><rect x="0" y="-5.8" width="19.5" height="5.8" rx="0.8" fill="#c4c4c4" stroke="#acacac" stroke-width="0.5"/><text x="1.3" y="-1" font-family="Liberation Sans" font-weight="bold" font-size="5.8" fill="#fff" textLength="17" lengthAdjust="spacingAndGlyphs">STOP</text><circle cx="22.6" cy="-3.1" r="2.3" fill="#fff" stroke="#acacac" stroke-width="1.3"/><rect x="25.6" y="-6" width="19" height="5.8" fill="#f2f2f2"/><text x="26" y="-0.9" font-family="Liberation Sans" font-weight="bold" font-size="6.4" fill="#fbfbfb" stroke="#c0c0c0" stroke-width="0.65" textLength="17.5" lengthAdjust="spacingAndGlyphs">TECH</text></g><g transform="translate(142.7,308.6) rotate(-30) scale(1.08)"><rect x="0" y="-5.8" width="19.5" height="5.8" rx="0.8" fill="#c4c4c4" stroke="#acacac" stroke-width="0.5"/><text x="1.3" y="-1" font-family="Liberation Sans" font-weight="bold" font-size="5.8" fill="#fff" textLength="17" lengthAdjust="spacingAndGlyphs">STOP</text><circle cx="22.6" cy="-3.1" r="2.3" fill="#fff" stroke="#acacac" stroke-width="1.3"/><rect x="25.6" y="-6" width="19" height="5.8" fill="#f2f2f2"/><text x="26" y="-0.9" font-family="Liberation Sans" font-weight="bold" font-size="6.4" fill="#fbfbfb" stroke="#c0c0c0" stroke-width="0.65" textLength="17.5" lengthAdjust="spacingAndGlyphs">TECH</text></g><g transform="translate(158.95,335.9) rotate(-30) scale(1.08)"><rect x="0" y="-5.8" width="19.5" height="5.8" rx="0.8" fill="#c4c4c4" stroke="#acacac" stroke-width="0.5"/><text x="1.3" y="-1" font-family="Liberation Sans" font-weight="bold" font-size="5.8" fill="#fff" textLength="17" lengthAdjust="spacingAndGlyphs">STOP</text><circle cx="22.6" cy="-3.1" r="2.3" fill="#fff" stroke="#acacac" stroke-width="1.3"/><rect x="25.6" y="-6" width="19" height="5.8" fill="#f2f2f2"/><text x="26" y="-0.9" font-family="Liberation Sans" font-weight="bold" font-size="6.4" fill="#fbfbfb" stroke="#c0c0c0" stroke-width="0.65" textLength="17.5" lengthAdjust="spacingAndGlyphs">TECH</text></g><g transform="translate(142.4,254) rotate(-30) scale(1.08)"><rect x="0" y="-5.8" width="19.5" height="5.8" rx="0.8" fill="#c4c4c4" stroke="#acacac" stroke-width="0.5"/><text x="1.3" y="-1" font-family="Liberation Sans" font-weight="bold" font-size="5.8" fill="#fff" textLength="17" lengthAdjust="spacingAndGlyphs">STOP</text><circle cx="22.6" cy="-3.1" r="2.3" fill="#fff" stroke="#acacac" stroke-width="1.3"/><rect x="25.6" y="-6" width="19" height="5.8" fill="#f2f2f2"/><text x="26" y="-0.9" font-family="Liberation Sans" font-weight="bold" font-size="6.4" fill="#fbfbfb" stroke="#c0c0c0" stroke-width="0.65" textLength="17.5" lengthAdjust="spacingAndGlyphs">TECH</text></g><g transform="translate(158.65,281.3) rotate(-30) scale(1.08)"><rect x="0" y="-5.8" width="19.5" height="5.8" rx="0.8" fill="#c4c4c4" stroke="#acacac" stroke-width="0.5"/><text x="1.3" y="-1" font-family="Liberation Sans" font-weight="bold" font-size="5.8" fill="#fff" textLength="17" lengthAdjust="spacingAndGlyphs">STOP</text><circle cx="22.6" cy="-3.1" r="2.3" fill="#fff" stroke="#acacac" stroke-width="1.3"/><rect x="25.6" y="-6" width="19" height="5.8" fill="#f2f2f2"/><text x="26" y="-0.9" font-family="Liberation Sans" font-weight="bold" font-size="6.4" fill="#fbfbfb" stroke="#c0c0c0" stroke-width="0.65" textLength="17.5" lengthAdjust="spacingAndGlyphs">TECH</text></g><g transform="translate(174.9,308.6) rotate(-30) scale(1.08)"><rect x="0" y="-5.8" width="19.5" height="5.8" rx="0.8" fill="#c4c4c4" stroke="#acacac" stroke-width="0.5"/><text x="1.3" y="-1" font-family="Liberation Sans" font-weight="bold" font-size="5.8" fill="#fff" textLength="17" lengthAdjust="spacingAndGlyphs">STOP</text><circle cx="22.6" cy="-3.1" r="2.3" fill="#fff" stroke="#acacac" stroke-width="1.3"/><rect x="25.6" y="-6" width="19" height="5.8" fill="#f2f2f2"/><text x="26" y="-0.9" font-family="Liberation Sans" font-weight="bold" font-size="6.4" fill="#fbfbfb" stroke="#c0c0c0" stroke-width="0.65" textLength="17.5" lengthAdjust="spacingAndGlyphs">TECH</text></g><g transform="translate(191.15,335.9) rotate(-30) scale(1.08)"><rect x="0" y="-5.8" width="19.5" height="5.8" rx="0.8" fill="#c4c4c4" stroke="#acacac" stroke-width="0.5"/><text x="1.3" y="-1" font-family="Liberation Sans" font-weight="bold" font-size="5.8" fill="#fff" textLength="17" lengthAdjust="spacingAndGlyphs">STOP</text><circle cx="22.6" cy="-3.1" r="2.3" fill="#fff" stroke="#acacac" stroke-width="1.3"/><rect x="25.6" y="-6" width="19" height="5.8" fill="#f2f2f2"/><text x="26" y="-0.9" font-family="Liberation Sans" font-weight="bold" font-size="6.4" fill="#fbfbfb" stroke="#c0c0c0" stroke-width="0.65" textLength="17.5" lengthAdjust="spacingAndGlyphs">TECH</text></g><g transform="translate(174.6,254) rotate(-30) scale(1.08)"><rect x="0" y="-5.8" width="19.5" height="5.8" rx="0.8" fill="#c4c4c4" stroke="#acacac" stroke-width="0.5"/><text x="1.3" y="-1" font-family="Liberation Sans" font-weight="bold" font-size="5.8" fill="#fff" textLength="17" lengthAdjust="spacingAndGlyphs">STOP</text><circle cx="22.6" cy="-3.1" r="2.3" fill="#fff" stroke="#acacac" stroke-width="1.3"/><rect x="25.6" y="-6" width="19" height="5.8" fill="#f2f2f2"/><text x="26" y="-0.9" font-family="Liberation Sans" font-weight="bold" font-size="6.4" fill="#fbfbfb" stroke="#c0c0c0" stroke-width="0.65" textLength="17.5" lengthAdjust="spacingAndGlyphs">TECH</text></g><g transform="translate(190.85,281.3) rotate(-30) scale(1.08)"><rect x="0" y="-5.8" width="19.5" height="5.8" rx="0.8" fill="#c4c4c4" stroke="#acacac" stroke-width="0.5"/><text x="1.3" y="-1" font-family="Liberation Sans" font-weight="bold" font-size="5.8" fill="#fff" textLength="17" lengthAdjust="spacingAndGlyphs">STOP</text><circle cx="22.6" cy="-3.1" r="2.3" fill="#fff" stroke="#acacac" stroke-width="1.3"/><rect x="25.6" y="-6" width="19" height="5.8" fill="#f2f2f2"/><text x="26" y="-0.9" font-family="Liberation Sans" font-weight="bold" font-size="6.4" fill="#fbfbfb" stroke="#c0c0c0" stroke-width="0.65" textLength="17.5" lengthAdjust="spacingAndGlyphs">TECH</text></g><g transform="translate(207.1,308.6) rotate(-30) scale(1.08)"><rect x="0" y="-5.8" width="19.5" height="5.8" rx="0.8" fill="#c4c4c4" stroke="#acacac" stroke-width="0.5"/><text x="1.3" y="-1" font-family="Liberation Sans" font-weight="bold" font-size="5.8" fill="#fff" textLength="17" lengthAdjust="spacingAndGlyphs">STOP</text><circle cx="22.6" cy="-3.1" r="2.3" fill="#fff" stroke="#acacac" stroke-width="1.3"/><rect x="25.6" y="-6" width="19" height="5.8" fill="#f2f2f2"/><text x="26" y="-0.9" font-family="Liberation Sans" font-weight="bold" font-size="6.4" fill="#fbfbfb" stroke="#c0c0c0" stroke-width="0.65" textLength="17.5" lengthAdjust="spacingAndGlyphs">TECH</text></g><g transform="translate(223.35,335.9) rotate(-30) scale(1.08)"><rect x="0" y="-5.8" width="19.5" height="5.8" rx="0.8" fill="#c4c4c4" stroke="#acacac" stroke-width="0.5"/><text x="1.3" y="-1" font-family="Liberation Sans" font-weight="bold" font-size="5.8" fill="#fff" textLength="17" lengthAdjust="spacingAndGlyphs">STOP</text><circle cx="22.6" cy="-3.1" r="2.3" fill="#fff" stroke="#acacac" stroke-width="1.3"/><rect x="25.6" y="-6" width="19" height="5.8" fill="#f2f2f2"/><text x="26" y="-0.9" font-family="Liberation Sans" font-weight="bold" font-size="6.4" fill="#fbfbfb" stroke="#c0c0c0" stroke-width="0.65" textLength="17.5" lengthAdjust="spacingAndGlyphs">TECH</text></g><g transform="translate(206.8,254) rotate(-30) scale(1.08)"><rect x="0" y="-5.8" width="19.5" height="5.8" rx="0.8" fill="#c4c4c4" stroke="#acacac" stroke-width="0.5"/><text x="1.3" y="-1" font-family="Liberation Sans" font-weight="bold" font-size="5.8" fill="#fff" textLength="17" lengthAdjust="spacingAndGlyphs">STOP</text><circle cx="22.6" cy="-3.1" r="2.3" fill="#fff" stroke="#acacac" stroke-width="1.3"/><rect x="25.6" y="-6" width="19" height="5.8" fill="#f2f2f2"/><text x="26" y="-0.9" font-family="Liberation Sans" font-weight="bold" font-size="6.4" fill="#fbfbfb" stroke="#c0c0c0" stroke-width="0.65" textLength="17.5" lengthAdjust="spacingAndGlyphs">TECH</text></g><g transform="translate(223.05,281.3) rotate(-30) scale(1.08)"><rect x="0" y="-5.8" width="19.5" height="5.8" rx="0.8" fill="#c4c4c4" stroke="#acacac" stroke-width="0.5"/><text x="1.3" y="-1" font-family="Liberation Sans" font-weight="bold" font-size="5.8" fill="#fff" textLength="17" lengthAdjust="spacingAndGlyphs">STOP</text><circle cx="22.6" cy="-3.1" r="2.3" fill="#fff" stroke="#acacac" stroke-width="1.3"/><rect x="25.6" y="-6" width="19" height="5.8" fill="#f2f2f2"/><text x="26" y="-0.9" font-family="Liberation Sans" font-weight="bold" font-size="6.4" fill="#fbfbfb" stroke="#c0c0c0" stroke-width="0.65" textLength="17.5" lengthAdjust="spacingAndGlyphs">TECH</text></g><g transform="translate(239.3,308.6) rotate(-30) scale(1.08)"><rect x="0" y="-5.8" width="19.5" height="5.8" rx="0.8" fill="#c4c4c4" stroke="#acacac" stroke-width="0.5"/><text x="1.3" y="-1" font-family="Liberation Sans" font-weight="bold" font-size="5.8" fill="#fff" textLength="17" lengthAdjust="spacingAndGlyphs">STOP</text><circle cx="22.6" cy="-3.1" r="2.3" fill="#fff" stroke="#acacac" stroke-width="1.3"/><rect x="25.6" y="-6" width="19" height="5.8" fill="#f2f2f2"/><text x="26" y="-0.9" font-family="Liberation Sans" font-weight="bold" font-size="6.4" fill="#fbfbfb" stroke="#c0c0c0" stroke-width="0.65" textLength="17.5" lengthAdjust="spacingAndGlyphs">TECH</text></g><g transform="translate(255.55,335.9) rotate(-30) scale(1.08)"><rect x="0" y="-5.8" width="19.5" height="5.8" rx="0.8" fill="#c4c4c4" stroke="#acacac" stroke-width="0.5"/><text x="1.3" y="-1" font-family="Liberation Sans" font-weight="bold" font-size="5.8" fill="#fff" textLength="17" lengthAdjust="spacingAndGlyphs">STOP</text><circle cx="22.6" cy="-3.1" r="2.3" fill="#fff" stroke="#acacac" stroke-width="1.3"/><rect x="25.6" y="-6" width="19" height="5.8" fill="#f2f2f2"/><text x="26" y="-0.9" font-family="Liberation Sans" font-weight="bold" font-size="6.4" fill="#fbfbfb" stroke="#c0c0c0" stroke-width="0.65" textLength="17.5" lengthAdjust="spacingAndGlyphs">TECH</text></g><g transform="translate(239,254) rotate(-30) scale(1.08)"><rect x="0" y="-5.8" width="19.5" height="5.8" rx="0.8" fill="#c4c4c4" stroke="#acacac" stroke-width="0.5"/><text x="1.3" y="-1" font-family="Liberation Sans" font-weight="bold" font-size="5.8" fill="#fff" textLength="17" lengthAdjust="spacingAndGlyphs">STOP</text><circle cx="22.6" cy="-3.1" r="2.3" fill="#fff" stroke="#acacac" stroke-width="1.3"/><rect x="25.6" y="-6" width="19" height="5.8" fill="#f2f2f2"/><text x="26" y="-0.9" font-family="Liberation Sans" font-weight="bold" font-size="6.4" fill="#fbfbfb" stroke="#c0c0c0" stroke-width="0.65" textLength="17.5" lengthAdjust="spacingAndGlyphs">TECH</text></g><g transform="translate(255.25,281.3) rotate(-30) scale(1.08)"><rect x="0" y="-5.8" width="19.5" height="5.8" rx="0.8" fill="#c4c4c4" stroke="#acacac" stroke-width="0.5"/><text x="1.3" y="-1" font-family="Liberation Sans" font-weight="bold" font-size="5.8" fill="#fff" textLength="17" lengthAdjust="spacingAndGlyphs">STOP</text><circle cx="22.6" cy="-3.1" r="2.3" fill="#fff" stroke="#acacac" stroke-width="1.3"/><rect x="25.6" y="-6" width="19" height="5.8" fill="#f2f2f2"/><text x="26" y="-0.9" font-family="Liberation Sans" font-weight="bold" font-size="6.4" fill="#fbfbfb" stroke="#c0c0c0" stroke-width="0.65" textLength="17.5" lengthAdjust="spacingAndGlyphs">TECH</text></g><g transform="translate(271.5,308.6) rotate(-30) scale(1.08)"><rect x="0" y="-5.8" width="19.5" height="5.8" rx="0.8" fill="#c4c4c4" stroke="#acacac" stroke-width="0.5"/><text x="1.3" y="-1" font-family="Liberation Sans" font-weight="bold" font-size="5.8" fill="#fff" textLength="17" lengthAdjust="spacingAndGlyphs">STOP</text><circle cx="22.6" cy="-3.1" r="2.3" fill="#fff" stroke="#acacac" stroke-width="1.3"/><rect x="25.6" y="-6" width="19" height="5.8" fill="#f2f2f2"/><text x="26" y="-0.9" font-family="Liberation Sans" font-weight="bold" font-size="6.4" fill="#fbfbfb" stroke="#c0c0c0" stroke-width="0.65" textLength="17.5" lengthAdjust="spacingAndGlyphs">TECH</text></g><g transform="translate(287.75,335.9) rotate(-30) scale(1.08)"><rect x="0" y="-5.8" width="19.5" height="5.8" rx="0.8" fill="#c4c4c4" stroke="#acacac" stroke-width="0.5"/><text x="1.3" y="-1" font-family="Liberation Sans" font-weight="bold" font-size="5.8" fill="#fff" textLength="17" lengthAdjust="spacingAndGlyphs">STOP</text><circle cx="22.6" cy="-3.1" r="2.3" fill="#fff" stroke="#acacac" stroke-width="1.3"/><rect x="25.6" y="-6" width="19" height="5.8" fill="#f2f2f2"/><text x="26" y="-0.9" font-family="Liberation Sans" font-weight="bold" font-size="6.4" fill="#fbfbfb" stroke="#c0c0c0" stroke-width="0.65" textLength="17.5" lengthAdjust="spacingAndGlyphs">TECH</text></g><g transform="translate(271.2,254) rotate(-30) scale(1.08)"><rect x="0" y="-5.8" width="19.5" height="5.8" rx="0.8" fill="#c4c4c4" stroke="#acacac" stroke-width="0.5"/><text x="1.3" y="-1" font-family="Liberation Sans" font-weight="bold" font-size="5.8" fill="#fff" textLength="17" lengthAdjust="spacingAndGlyphs">STOP</text><circle cx="22.6" cy="-3.1" r="2.3" fill="#fff" stroke="#acacac" stroke-width="1.3"/><rect x="25.6" y="-6" width="19" height="5.8" fill="#f2f2f2"/><text x="26" y="-0.9" font-family="Liberation Sans" font-weight="bold" font-size="6.4" fill="#fbfbfb" stroke="#c0c0c0" stroke-width="0.65" textLength="17.5" lengthAdjust="spacingAndGlyphs">TECH</text></g><g transform="translate(287.45,281.3) rotate(-30) scale(1.08)"><rect x="0" y="-5.8" width="19.5" height="5.8" rx="0.8" fill="#c4c4c4" stroke="#acacac" stroke-width="0.5"/><text x="1.3" y="-1" font-family="Liberation Sans" font-weight="bold" font-size="5.8" fill="#fff" textLength="17" lengthAdjust="spacingAndGlyphs">STOP</text><circle cx="22.6" cy="-3.1" r="2.3" fill="#fff" stroke="#acacac" stroke-width="1.3"/><rect x="25.6" y="-6" width="19" height="5.8" fill="#f2f2f2"/><text x="26" y="-0.9" font-family="Liberation Sans" font-weight="bold" font-size="6.4" fill="#fbfbfb" stroke="#c0c0c0" stroke-width="0.65" textLength="17.5" lengthAdjust="spacingAndGlyphs">TECH</text></g><g transform="translate(303.7,308.6) rotate(-30) scale(1.08)"><rect x="0" y="-5.8" width="19.5" height="5.8" rx="0.8" fill="#c4c4c4" stroke="#acacac" stroke-width="0.5"/><text x="1.3" y="-1" font-family="Liberation Sans" font-weight="bold" font-size="5.8" fill="#fff" textLength="17" lengthAdjust="spacingAndGlyphs">STOP</text><circle cx="22.6" cy="-3.1" r="2.3" fill="#fff" stroke="#acacac" stroke-width="1.3"/><rect x="25.6" y="-6" width="19" height="5.8" fill="#f2f2f2"/><text x="26" y="-0.9" font-family="Liberation Sans" font-weight="bold" font-size="6.4" fill="#fbfbfb" stroke="#c0c0c0" stroke-width="0.65" textLength="17.5" lengthAdjust="spacingAndGlyphs">TECH</text></g><g transform="translate(319.95,335.9) rotate(-30) scale(1.08)"><rect x="0" y="-5.8" width="19.5" height="5.8" rx="0.8" fill="#c4c4c4" stroke="#acacac" stroke-width="0.5"/><text x="1.3" y="-1" font-family="Liberation Sans" font-weight="bold" font-size="5.8" fill="#fff" textLength="17" lengthAdjust="spacingAndGlyphs">STOP</text><circle cx="22.6" cy="-3.1" r="2.3" fill="#fff" stroke="#acacac" stroke-width="1.3"/><rect x="25.6" y="-6" width="19" height="5.8" fill="#f2f2f2"/><text x="26" y="-0.9" font-family="Liberation Sans" font-weight="bold" font-size="6.4" fill="#fbfbfb" stroke="#c0c0c0" stroke-width="0.65" textLength="17.5" lengthAdjust="spacingAndGlyphs">TECH</text></g><g transform="translate(303.4,254) rotate(-30) scale(1.08)"><rect x="0" y="-5.8" width="19.5" height="5.8" rx="0.8" fill="#c4c4c4" stroke="#acacac" stroke-width="0.5"/><text x="1.3" y="-1" font-family="Liberation Sans" font-weight="bold" font-size="5.8" fill="#fff" textLength="17" lengthAdjust="spacingAndGlyphs">STOP</text><circle cx="22.6" cy="-3.1" r="2.3" fill="#fff" stroke="#acacac" stroke-width="1.3"/><rect x="25.6" y="-6" width="19" height="5.8" fill="#f2f2f2"/><text x="26" y="-0.9" font-family="Liberation Sans" font-weight="bold" font-size="6.4" fill="#fbfbfb" stroke="#c0c0c0" stroke-width="0.65" textLength="17.5" lengthAdjust="spacingAndGlyphs">TECH</text></g><g transform="translate(319.65,281.3) rotate(-30) scale(1.08)"><rect x="0" y="-5.8" width="19.5" height="5.8" rx="0.8" fill="#c4c4c4" stroke="#acacac" stroke-width="0.5"/><text x="1.3" y="-1" font-family="Liberation Sans" font-weight="bold" font-size="5.8" fill="#fff" textLength="17" lengthAdjust="spacingAndGlyphs">STOP</text><circle cx="22.6" cy="-3.1" r="2.3" fill="#fff" stroke="#acacac" stroke-width="1.3"/><rect x="25.6" y="-6" width="19" height="5.8" fill="#f2f2f2"/><text x="26" y="-0.9" font-family="Liberation Sans" font-weight="bold" font-size="6.4" fill="#fbfbfb" stroke="#c0c0c0" stroke-width="0.65" textLength="17.5" lengthAdjust="spacingAndGlyphs">TECH</text></g></g>
<g transform="translate(0,141.3)" fill="none" stroke="#3a3a3a">
  <use href="#fric" stroke-width="1"/>
  <use href="#pad" stroke-width="1.2"/>
  <line x1="233" y1="100" x2="233" y2="177" stroke-width="1"/>
  <line x1="236.5" y1="100" x2="236.5" y2="177" stroke-width="1"/>
</g>
<line x1="86" y1="235.6" x2="222" y2="235.6" stroke="#777" stroke-width="0.8"/>
<line x1="86" y1="319" x2="186" y2="319" stroke="#777" stroke-width="0.8"/>
<line x1="89.5" y1="236" x2="89.5" y2="268.4" stroke="#666" stroke-width="0.9" marker-start="url(#ar)"/>
<line x1="89.5" y1="283.4" x2="89.5" y2="318.6" stroke="#666" stroke-width="0.9" marker-end="url(#ar)"/>

<!-- ===== Side view A ===== -->
<g clip-path="url(#fcA)"><g transform="translate(116,247) rotate(-32) scale(1.08)"><rect x="0" y="-5.8" width="19.5" height="5.8" rx="0.8" fill="#c6c6c6" stroke="#b4b4b4" stroke-width="0.5"/><text x="1.3" y="-1" font-family="Liberation Sans" font-weight="bold" font-size="5.8" fill="#fff" textLength="17" lengthAdjust="spacingAndGlyphs">STOP</text><circle cx="22.6" cy="-3.1" r="2.3" fill="#fff" stroke="#b4b4b4" stroke-width="1.3"/><rect x="25.6" y="-6" width="19" height="5.8" fill="#efefef"/><text x="26" y="-0.9" font-family="Liberation Sans" font-weight="bold" font-size="6.4" fill="#fbfbfb" stroke="#c8c8c8" stroke-width="0.65" textLength="17.5" lengthAdjust="spacingAndGlyphs">TECH</text></g><g transform="translate(101,205) rotate(-32) scale(1.08)"><rect x="0" y="-5.8" width="19.5" height="5.8" rx="0.8" fill="#c6c6c6" stroke="#b4b4b4" stroke-width="0.5"/><text x="1.3" y="-1" font-family="Liberation Sans" font-weight="bold" font-size="5.8" fill="#fff" textLength="17" lengthAdjust="spacingAndGlyphs">STOP</text><circle cx="22.6" cy="-3.1" r="2.3" fill="#fff" stroke="#b4b4b4" stroke-width="1.3"/><rect x="25.6" y="-6" width="19" height="5.8" fill="#efefef"/><text x="26" y="-0.9" font-family="Liberation Sans" font-weight="bold" font-size="6.4" fill="#fbfbfb" stroke="#c8c8c8" stroke-width="0.65" textLength="17.5" lengthAdjust="spacingAndGlyphs">TECH</text></g><g transform="translate(117,219) rotate(-32) scale(1.08)"><rect x="0" y="-5.8" width="19.5" height="5.8" rx="0.8" fill="#c6c6c6" stroke="#b4b4b4" stroke-width="0.5"/><text x="1.3" y="-1" font-family="Liberation Sans" font-weight="bold" font-size="5.8" fill="#fff" textLength="17" lengthAdjust="spacingAndGlyphs">STOP</text><circle cx="22.6" cy="-3.1" r="2.3" fill="#fff" stroke="#b4b4b4" stroke-width="1.3"/><rect x="25.6" y="-6" width="19" height="5.8" fill="#efefef"/><text x="26" y="-0.9" font-family="Liberation Sans" font-weight="bold" font-size="6.4" fill="#fbfbfb" stroke="#c8c8c8" stroke-width="0.65" textLength="17.5" lengthAdjust="spacingAndGlyphs">TECH</text></g><g transform="translate(133,233) rotate(-32) scale(1.08)"><rect x="0" y="-5.8" width="19.5" height="5.8" rx="0.8" fill="#c6c6c6" stroke="#b4b4b4" stroke-width="0.5"/><text x="1.3" y="-1" font-family="Liberation Sans" font-weight="bold" font-size="5.8" fill="#fff" textLength="17" lengthAdjust="spacingAndGlyphs">STOP</text><circle cx="22.6" cy="-3.1" r="2.3" fill="#fff" stroke="#b4b4b4" stroke-width="1.3"/><rect x="25.6" y="-6" width="19" height="5.8" fill="#efefef"/><text x="26" y="-0.9" font-family="Liberation Sans" font-weight="bold" font-size="6.4" fill="#fbfbfb" stroke="#c8c8c8" stroke-width="0.65" textLength="17.5" lengthAdjust="spacingAndGlyphs">TECH</text></g><g transform="translate(149,247) rotate(-32) scale(1.08)"><rect x="0" y="-5.8" width="19.5" height="5.8" rx="0.8" fill="#c6c6c6" stroke="#b4b4b4" stroke-width="0.5"/><text x="1.3" y="-1" font-family="Liberation Sans" font-weight="bold" font-size="5.8" fill="#fff" textLength="17" lengthAdjust="spacingAndGlyphs">STOP</text><circle cx="22.6" cy="-3.1" r="2.3" fill="#fff" stroke="#b4b4b4" stroke-width="1.3"/><rect x="25.6" y="-6" width="19" height="5.8" fill="#efefef"/><text x="26" y="-0.9" font-family="Liberation Sans" font-weight="bold" font-size="6.4" fill="#fbfbfb" stroke="#c8c8c8" stroke-width="0.65" textLength="17.5" lengthAdjust="spacingAndGlyphs">TECH</text></g><g transform="translate(134,205) rotate(-32) scale(1.08)"><rect x="0" y="-5.8" width="19.5" height="5.8" rx="0.8" fill="#c6c6c6" stroke="#b4b4b4" stroke-width="0.5"/><text x="1.3" y="-1" font-family="Liberation Sans" font-weight="bold" font-size="5.8" fill="#fff" textLength="17" lengthAdjust="spacingAndGlyphs">STOP</text><circle cx="22.6" cy="-3.1" r="2.3" fill="#fff" stroke="#b4b4b4" stroke-width="1.3"/><rect x="25.6" y="-6" width="19" height="5.8" fill="#efefef"/><text x="26" y="-0.9" font-family="Liberation Sans" font-weight="bold" font-size="6.4" fill="#fbfbfb" stroke="#c8c8c8" stroke-width="0.65" textLength="17.5" lengthAdjust="spacingAndGlyphs">TECH</text></g><g transform="translate(150,219) rotate(-32) scale(1.08)"><rect x="0" y="-5.8" width="19.5" height="5.8" rx="0.8" fill="#c6c6c6" stroke="#b4b4b4" stroke-width="0.5"/><text x="1.3" y="-1" font-family="Liberation Sans" font-weight="bold" font-size="5.8" fill="#fff" textLength="17" lengthAdjust="spacingAndGlyphs">STOP</text><circle cx="22.6" cy="-3.1" r="2.3" fill="#fff" stroke="#b4b4b4" stroke-width="1.3"/><rect x="25.6" y="-6" width="19" height="5.8" fill="#efefef"/><text x="26" y="-0.9" font-family="Liberation Sans" font-weight="bold" font-size="6.4" fill="#fbfbfb" stroke="#c8c8c8" stroke-width="0.65" textLength="17.5" lengthAdjust="spacingAndGlyphs">TECH</text></g><g transform="translate(166,233) rotate(-32) scale(1.08)"><rect x="0" y="-5.8" width="19.5" height="5.8" rx="0.8" fill="#c6c6c6" stroke="#b4b4b4" stroke-width="0.5"/><text x="1.3" y="-1" font-family="Liberation Sans" font-weight="bold" font-size="5.8" fill="#fff" textLength="17" lengthAdjust="spacingAndGlyphs">STOP</text><circle cx="22.6" cy="-3.1" r="2.3" fill="#fff" stroke="#b4b4b4" stroke-width="1.3"/><rect x="25.6" y="-6" width="19" height="5.8" fill="#efefef"/><text x="26" y="-0.9" font-family="Liberation Sans" font-weight="bold" font-size="6.4" fill="#fbfbfb" stroke="#c8c8c8" stroke-width="0.65" textLength="17.5" lengthAdjust="spacingAndGlyphs">TECH</text></g><g transform="translate(182,247) rotate(-32) scale(1.08)"><rect x="0" y="-5.8" width="19.5" height="5.8" rx="0.8" fill="#c6c6c6" stroke="#b4b4b4" stroke-width="0.5"/><text x="1.3" y="-1" font-family="Liberation Sans" font-weight="bold" font-size="5.8" fill="#fff" textLength="17" lengthAdjust="spacingAndGlyphs">STOP</text><circle cx="22.6" cy="-3.1" r="2.3" fill="#fff" stroke="#b4b4b4" stroke-width="1.3"/><rect x="25.6" y="-6" width="19" height="5.8" fill="#efefef"/><text x="26" y="-0.9" font-family="Liberation Sans" font-weight="bold" font-size="6.4" fill="#fbfbfb" stroke="#c8c8c8" stroke-width="0.65" textLength="17.5" lengthAdjust="spacingAndGlyphs">TECH</text></g><g transform="translate(167,205) rotate(-32) scale(1.08)"><rect x="0" y="-5.8" width="19.5" height="5.8" rx="0.8" fill="#c6c6c6" stroke="#b4b4b4" stroke-width="0.5"/><text x="1.3" y="-1" font-family="Liberation Sans" font-weight="bold" font-size="5.8" fill="#fff" textLength="17" lengthAdjust="spacingAndGlyphs">STOP</text><circle cx="22.6" cy="-3.1" r="2.3" fill="#fff" stroke="#b4b4b4" stroke-width="1.3"/><rect x="25.6" y="-6" width="19" height="5.8" fill="#efefef"/><text x="26" y="-0.9" font-family="Liberation Sans" font-weight="bold" font-size="6.4" fill="#fbfbfb" stroke="#c8c8c8" stroke-width="0.65" textLength="17.5" lengthAdjust="spacingAndGlyphs">TECH</text></g><g transform="translate(183,219) rotate(-32) scale(1.08)"><rect x="0" y="-5.8" width="19.5" height="5.8" rx="0.8" fill="#c6c6c6" stroke="#b4b4b4" stroke-width="0.5"/><text x="1.3" y="-1" font-family="Liberation Sans" font-weight="bold" font-size="5.8" fill="#fff" textLength="17" lengthAdjust="spacingAndGlyphs">STOP</text><circle cx="22.6" cy="-3.1" r="2.3" fill="#fff" stroke="#b4b4b4" stroke-width="1.3"/><rect x="25.6" y="-6" width="19" height="5.8" fill="#efefef"/><text x="26" y="-0.9" font-family="Liberation Sans" font-weight="bold" font-size="6.4" fill="#fbfbfb" stroke="#c8c8c8" stroke-width="0.65" textLength="17.5" lengthAdjust="spacingAndGlyphs">TECH</text></g><g transform="translate(199,233) rotate(-32) scale(1.08)"><rect x="0" y="-5.8" width="19.5" height="5.8" rx="0.8" fill="#c6c6c6" stroke="#b4b4b4" stroke-width="0.5"/><text x="1.3" y="-1" font-family="Liberation Sans" font-weight="bold" font-size="5.8" fill="#fff" textLength="17" lengthAdjust="spacingAndGlyphs">STOP</text><circle cx="22.6" cy="-3.1" r="2.3" fill="#fff" stroke="#b4b4b4" stroke-width="1.3"/><rect x="25.6" y="-6" width="19" height="5.8" fill="#efefef"/><text x="26" y="-0.9" font-family="Liberation Sans" font-weight="bold" font-size="6.4" fill="#fbfbfb" stroke="#c8c8c8" stroke-width="0.65" textLength="17.5" lengthAdjust="spacingAndGlyphs">TECH</text></g><g transform="translate(215,247) rotate(-32) scale(1.08)"><rect x="0" y="-5.8" width="19.5" height="5.8" rx="0.8" fill="#c6c6c6" stroke="#b4b4b4" stroke-width="0.5"/><text x="1.3" y="-1" font-family="Liberation Sans" font-weight="bold" font-size="5.8" fill="#fff" textLength="17" lengthAdjust="spacingAndGlyphs">STOP</text><circle cx="22.6" cy="-3.1" r="2.3" fill="#fff" stroke="#b4b4b4" stroke-width="1.3"/><rect x="25.6" y="-6" width="19" height="5.8" fill="#efefef"/><text x="26" y="-0.9" font-family="Liberation Sans" font-weight="bold" font-size="6.4" fill="#fbfbfb" stroke="#c8c8c8" stroke-width="0.65" textLength="17.5" lengthAdjust="spacingAndGlyphs">TECH</text></g><g transform="translate(200,205) rotate(-32) scale(1.08)"><rect x="0" y="-5.8" width="19.5" height="5.8" rx="0.8" fill="#c6c6c6" stroke="#b4b4b4" stroke-width="0.5"/><text x="1.3" y="-1" font-family="Liberation Sans" font-weight="bold" font-size="5.8" fill="#fff" textLength="17" lengthAdjust="spacingAndGlyphs">STOP</text><circle cx="22.6" cy="-3.1" r="2.3" fill="#fff" stroke="#b4b4b4" stroke-width="1.3"/><rect x="25.6" y="-6" width="19" height="5.8" fill="#efefef"/><text x="26" y="-0.9" font-family="Liberation Sans" font-weight="bold" font-size="6.4" fill="#fbfbfb" stroke="#c8c8c8" stroke-width="0.65" textLength="17.5" lengthAdjust="spacingAndGlyphs">TECH</text></g><g transform="translate(216,219) rotate(-32) scale(1.08)"><rect x="0" y="-5.8" width="19.5" height="5.8" rx="0.8" fill="#c6c6c6" stroke="#b4b4b4" stroke-width="0.5"/><text x="1.3" y="-1" font-family="Liberation Sans" font-weight="bold" font-size="5.8" fill="#fff" textLength="17" lengthAdjust="spacingAndGlyphs">STOP</text><circle cx="22.6" cy="-3.1" r="2.3" fill="#fff" stroke="#b4b4b4" stroke-width="1.3"/><rect x="25.6" y="-6" width="19" height="5.8" fill="#efefef"/><text x="26" y="-0.9" font-family="Liberation Sans" font-weight="bold" font-size="6.4" fill="#fbfbfb" stroke="#c8c8c8" stroke-width="0.65" textLength="17.5" lengthAdjust="spacingAndGlyphs">TECH</text></g><g transform="translate(232,233) rotate(-32) scale(1.08)"><rect x="0" y="-5.8" width="19.5" height="5.8" rx="0.8" fill="#c6c6c6" stroke="#b4b4b4" stroke-width="0.5"/><text x="1.3" y="-1" font-family="Liberation Sans" font-weight="bold" font-size="5.8" fill="#fff" textLength="17" lengthAdjust="spacingAndGlyphs">STOP</text><circle cx="22.6" cy="-3.1" r="2.3" fill="#fff" stroke="#b4b4b4" stroke-width="1.3"/><rect x="25.6" y="-6" width="19" height="5.8" fill="#efefef"/><text x="26" y="-0.9" font-family="Liberation Sans" font-weight="bold" font-size="6.4" fill="#fbfbfb" stroke="#c8c8c8" stroke-width="0.65" textLength="17.5" lengthAdjust="spacingAndGlyphs">TECH</text></g><g transform="translate(248,247) rotate(-32) scale(1.08)"><rect x="0" y="-5.8" width="19.5" height="5.8" rx="0.8" fill="#c6c6c6" stroke="#b4b4b4" stroke-width="0.5"/><text x="1.3" y="-1" font-family="Liberation Sans" font-weight="bold" font-size="5.8" fill="#fff" textLength="17" lengthAdjust="spacingAndGlyphs">STOP</text><circle cx="22.6" cy="-3.1" r="2.3" fill="#fff" stroke="#b4b4b4" stroke-width="1.3"/><rect x="25.6" y="-6" width="19" height="5.8" fill="#efefef"/><text x="26" y="-0.9" font-family="Liberation Sans" font-weight="bold" font-size="6.4" fill="#fbfbfb" stroke="#c8c8c8" stroke-width="0.65" textLength="17.5" lengthAdjust="spacingAndGlyphs">TECH</text></g><g transform="translate(233,205) rotate(-32) scale(1.08)"><rect x="0" y="-5.8" width="19.5" height="5.8" rx="0.8" fill="#c6c6c6" stroke="#b4b4b4" stroke-width="0.5"/><text x="1.3" y="-1" font-family="Liberation Sans" font-weight="bold" font-size="5.8" fill="#fff" textLength="17" lengthAdjust="spacingAndGlyphs">STOP</text><circle cx="22.6" cy="-3.1" r="2.3" fill="#fff" stroke="#b4b4b4" stroke-width="1.3"/><rect x="25.6" y="-6" width="19" height="5.8" fill="#efefef"/><text x="26" y="-0.9" font-family="Liberation Sans" font-weight="bold" font-size="6.4" fill="#fbfbfb" stroke="#c8c8c8" stroke-width="0.65" textLength="17.5" lengthAdjust="spacingAndGlyphs">TECH</text></g><g transform="translate(249,219) rotate(-32) scale(1.08)"><rect x="0" y="-5.8" width="19.5" height="5.8" rx="0.8" fill="#c6c6c6" stroke="#b4b4b4" stroke-width="0.5"/><text x="1.3" y="-1" font-family="Liberation Sans" font-weight="bold" font-size="5.8" fill="#fff" textLength="17" lengthAdjust="spacingAndGlyphs">STOP</text><circle cx="22.6" cy="-3.1" r="2.3" fill="#fff" stroke="#b4b4b4" stroke-width="1.3"/><rect x="25.6" y="-6" width="19" height="5.8" fill="#efefef"/><text x="26" y="-0.9" font-family="Liberation Sans" font-weight="bold" font-size="6.4" fill="#fbfbfb" stroke="#c8c8c8" stroke-width="0.65" textLength="17.5" lengthAdjust="spacingAndGlyphs">TECH</text></g><g transform="translate(265,233) rotate(-32) scale(1.08)"><rect x="0" y="-5.8" width="19.5" height="5.8" rx="0.8" fill="#c6c6c6" stroke="#b4b4b4" stroke-width="0.5"/><text x="1.3" y="-1" font-family="Liberation Sans" font-weight="bold" font-size="5.8" fill="#fff" textLength="17" lengthAdjust="spacingAndGlyphs">STOP</text><circle cx="22.6" cy="-3.1" r="2.3" fill="#fff" stroke="#b4b4b4" stroke-width="1.3"/><rect x="25.6" y="-6" width="19" height="5.8" fill="#efefef"/><text x="26" y="-0.9" font-family="Liberation Sans" font-weight="bold" font-size="6.4" fill="#fbfbfb" stroke="#c8c8c8" stroke-width="0.65" textLength="17.5" lengthAdjust="spacingAndGlyphs">TECH</text></g><g transform="translate(281,247) rotate(-32) scale(1.08)"><rect x="0" y="-5.8" width="19.5" height="5.8" rx="0.8" fill="#c6c6c6" stroke="#b4b4b4" stroke-width="0.5"/><text x="1.3" y="-1" font-family="Liberation Sans" font-weight="bold" font-size="5.8" fill="#fff" textLength="17" lengthAdjust="spacingAndGlyphs">STOP</text><circle cx="22.6" cy="-3.1" r="2.3" fill="#fff" stroke="#b4b4b4" stroke-width="1.3"/><rect x="25.6" y="-6" width="19" height="5.8" fill="#efefef"/><text x="26" y="-0.9" font-family="Liberation Sans" font-weight="bold" font-size="6.4" fill="#fbfbfb" stroke="#c8c8c8" stroke-width="0.65" textLength="17.5" lengthAdjust="spacingAndGlyphs">TECH</text></g><g transform="translate(266,205) rotate(-32) scale(1.08)"><rect x="0" y="-5.8" width="19.5" height="5.8" rx="0.8" fill="#c6c6c6" stroke="#b4b4b4" stroke-width="0.5"/><text x="1.3" y="-1" font-family="Liberation Sans" font-weight="bold" font-size="5.8" fill="#fff" textLength="17" lengthAdjust="spacingAndGlyphs">STOP</text><circle cx="22.6" cy="-3.1" r="2.3" fill="#fff" stroke="#b4b4b4" stroke-width="1.3"/><rect x="25.6" y="-6" width="19" height="5.8" fill="#efefef"/><text x="26" y="-0.9" font-family="Liberation Sans" font-weight="bold" font-size="6.4" fill="#fbfbfb" stroke="#c8c8c8" stroke-width="0.65" textLength="17.5" lengthAdjust="spacingAndGlyphs">TECH</text></g><g transform="translate(282,219) rotate(-32) scale(1.08)"><rect x="0" y="-5.8" width="19.5" height="5.8" rx="0.8" fill="#c6c6c6" stroke="#b4b4b4" stroke-width="0.5"/><text x="1.3" y="-1" font-family="Liberation Sans" font-weight="bold" font-size="5.8" fill="#fff" textLength="17" lengthAdjust="spacingAndGlyphs">STOP</text><circle cx="22.6" cy="-3.1" r="2.3" fill="#fff" stroke="#b4b4b4" stroke-width="1.3"/><rect x="25.6" y="-6" width="19" height="5.8" fill="#efefef"/><text x="26" y="-0.9" font-family="Liberation Sans" font-weight="bold" font-size="6.4" fill="#fbfbfb" stroke="#c8c8c8" stroke-width="0.65" textLength="17.5" lengthAdjust="spacingAndGlyphs">TECH</text></g><g transform="translate(298,233) rotate(-32) scale(1.08)"><rect x="0" y="-5.8" width="19.5" height="5.8" rx="0.8" fill="#c6c6c6" stroke="#b4b4b4" stroke-width="0.5"/><text x="1.3" y="-1" font-family="Liberation Sans" font-weight="bold" font-size="5.8" fill="#fff" textLength="17" lengthAdjust="spacingAndGlyphs">STOP</text><circle cx="22.6" cy="-3.1" r="2.3" fill="#fff" stroke="#b4b4b4" stroke-width="1.3"/><rect x="25.6" y="-6" width="19" height="5.8" fill="#efefef"/><text x="26" y="-0.9" font-family="Liberation Sans" font-weight="bold" font-size="6.4" fill="#fbfbfb" stroke="#c8c8c8" stroke-width="0.65" textLength="17.5" lengthAdjust="spacingAndGlyphs">TECH</text></g><g transform="translate(314,247) rotate(-32) scale(1.08)"><rect x="0" y="-5.8" width="19.5" height="5.8" rx="0.8" fill="#c6c6c6" stroke="#b4b4b4" stroke-width="0.5"/><text x="1.3" y="-1" font-family="Liberation Sans" font-weight="bold" font-size="5.8" fill="#fff" textLength="17" lengthAdjust="spacingAndGlyphs">STOP</text><circle cx="22.6" cy="-3.1" r="2.3" fill="#fff" stroke="#b4b4b4" stroke-width="1.3"/><rect x="25.6" y="-6" width="19" height="5.8" fill="#efefef"/><text x="26" y="-0.9" font-family="Liberation Sans" font-weight="bold" font-size="6.4" fill="#fbfbfb" stroke="#c8c8c8" stroke-width="0.65" textLength="17.5" lengthAdjust="spacingAndGlyphs">TECH</text></g><g transform="translate(299,205) rotate(-32) scale(1.08)"><rect x="0" y="-5.8" width="19.5" height="5.8" rx="0.8" fill="#c6c6c6" stroke="#b4b4b4" stroke-width="0.5"/><text x="1.3" y="-1" font-family="Liberation Sans" font-weight="bold" font-size="5.8" fill="#fff" textLength="17" lengthAdjust="spacingAndGlyphs">STOP</text><circle cx="22.6" cy="-3.1" r="2.3" fill="#fff" stroke="#b4b4b4" stroke-width="1.3"/><rect x="25.6" y="-6" width="19" height="5.8" fill="#efefef"/><text x="26" y="-0.9" font-family="Liberation Sans" font-weight="bold" font-size="6.4" fill="#fbfbfb" stroke="#c8c8c8" stroke-width="0.65" textLength="17.5" lengthAdjust="spacingAndGlyphs">TECH</text></g><g transform="translate(315,219) rotate(-32) scale(1.08)"><rect x="0" y="-5.8" width="19.5" height="5.8" rx="0.8" fill="#c6c6c6" stroke="#b4b4b4" stroke-width="0.5"/><text x="1.3" y="-1" font-family="Liberation Sans" font-weight="bold" font-size="5.8" fill="#fff" textLength="17" lengthAdjust="spacingAndGlyphs">STOP</text><circle cx="22.6" cy="-3.1" r="2.3" fill="#fff" stroke="#b4b4b4" stroke-width="1.3"/><rect x="25.6" y="-6" width="19" height="5.8" fill="#efefef"/><text x="26" y="-0.9" font-family="Liberation Sans" font-weight="bold" font-size="6.4" fill="#fbfbfb" stroke="#c8c8c8" stroke-width="0.65" textLength="17.5" lengthAdjust="spacingAndGlyphs">TECH</text></g><g transform="translate(331,233) rotate(-32) scale(1.08)"><rect x="0" y="-5.8" width="19.5" height="5.8" rx="0.8" fill="#c6c6c6" stroke="#b4b4b4" stroke-width="0.5"/><text x="1.3" y="-1" font-family="Liberation Sans" font-weight="bold" font-size="5.8" fill="#fff" textLength="17" lengthAdjust="spacingAndGlyphs">STOP</text><circle cx="22.6" cy="-3.1" r="2.3" fill="#fff" stroke="#b4b4b4" stroke-width="1.3"/><rect x="25.6" y="-6" width="19" height="5.8" fill="#efefef"/><text x="26" y="-0.9" font-family="Liberation Sans" font-weight="bold" font-size="6.4" fill="#fbfbfb" stroke="#c8c8c8" stroke-width="0.65" textLength="17.5" lengthAdjust="spacingAndGlyphs">TECH</text></g><g transform="translate(332,205) rotate(-32) scale(1.08)"><rect x="0" y="-5.8" width="19.5" height="5.8" rx="0.8" fill="#c6c6c6" stroke="#b4b4b4" stroke-width="0.5"/><text x="1.3" y="-1" font-family="Liberation Sans" font-weight="bold" font-size="5.8" fill="#fff" textLength="17" lengthAdjust="spacingAndGlyphs">STOP</text><circle cx="22.6" cy="-3.1" r="2.3" fill="#fff" stroke="#b4b4b4" stroke-width="1.3"/><rect x="25.6" y="-6" width="19" height="5.8" fill="#efefef"/><text x="26" y="-0.9" font-family="Liberation Sans" font-weight="bold" font-size="6.4" fill="#fbfbfb" stroke="#c8c8c8" stroke-width="0.65" textLength="17.5" lengthAdjust="spacingAndGlyphs">TECH</text></g></g>
<g stroke="#3a3a3a" stroke-width="1" fill="none">
  <path d="M146.6,208 L146.6,220.8 L232.8,220.8 L232.8,212.5 Q234.8,209.5 236.9,212.5 L236.9,220.8 L322.2,220.8 L322.2,208"/>
  <rect x="233.3" y="213" width="3.1" height="8.5" fill="#fff" stroke="none"/>
  <rect x="107.7" y="200.7" width="253.3" height="7.3" fill="#fff"/>
  <line x1="115" y1="200.7" x2="115" y2="208"/>
  <line x1="124" y1="200.7" x2="124" y2="208"/>
  <line x1="126.5" y1="200.7" x2="126.5" y2="208"/>
  <line x1="226" y1="200.7" x2="226" y2="208"/>
  <line x1="243.4" y1="200.7" x2="243.4" y2="208"/>
  <line x1="341" y1="200.7" x2="341" y2="208"/>
  <line x1="343.8" y1="200.7" x2="343.8" y2="208"/>
  <line x1="353.5" y1="200.7" x2="353.5" y2="208"/>
  <path d="M134,200.7 L134,198.6 L142,198.6 L142,200.7"/>
  <path d="M327,200.7 L327,198.5 L334.4,198.5 L334.4,200.7"/>
</g>
<line x1="85" y1="201" x2="106" y2="201" stroke="#999" stroke-width="0.8"/>
<line x1="85" y1="221" x2="146" y2="221" stroke="#555" stroke-width="0.9"/>
<line x1="90" y1="201.3" x2="90" y2="206.3" stroke="#222" stroke-width="1" marker-start="url(#as)"/>
<line x1="90" y1="215.5" x2="90" y2="220.7" stroke="#222" stroke-width="1" marker-end="url(#as)"/>

<!-- ===== Side view B ===== -->
<g clip-path="url(#fcB)"><g transform="translate(110,376) rotate(-32) scale(1.08)"><rect x="0" y="-5.8" width="19.5" height="5.8" rx="0.8" fill="#c6c6c6" stroke="#b4b4b4" stroke-width="0.5"/><text x="1.3" y="-1" font-family="Liberation Sans" font-weight="bold" font-size="5.8" fill="#fff" textLength="17" lengthAdjust="spacingAndGlyphs">STOP</text><circle cx="22.6" cy="-3.1" r="2.3" fill="#fff" stroke="#b4b4b4" stroke-width="1.3"/><rect x="25.6" y="-6" width="19" height="5.8" fill="#efefef"/><text x="26" y="-0.9" font-family="Liberation Sans" font-weight="bold" font-size="6.4" fill="#fbfbfb" stroke="#c8c8c8" stroke-width="0.65" textLength="17.5" lengthAdjust="spacingAndGlyphs">TECH</text></g><g transform="translate(126,390) rotate(-32) scale(1.08)"><rect x="0" y="-5.8" width="19.5" height="5.8" rx="0.8" fill="#c6c6c6" stroke="#b4b4b4" stroke-width="0.5"/><text x="1.3" y="-1" font-family="Liberation Sans" font-weight="bold" font-size="5.8" fill="#fff" textLength="17" lengthAdjust="spacingAndGlyphs">STOP</text><circle cx="22.6" cy="-3.1" r="2.3" fill="#fff" stroke="#b4b4b4" stroke-width="1.3"/><rect x="25.6" y="-6" width="19" height="5.8" fill="#efefef"/><text x="26" y="-0.9" font-family="Liberation Sans" font-weight="bold" font-size="6.4" fill="#fbfbfb" stroke="#c8c8c8" stroke-width="0.65" textLength="17.5" lengthAdjust="spacingAndGlyphs">TECH</text></g><g transform="translate(111,348) rotate(-32) scale(1.08)"><rect x="0" y="-5.8" width="19.5" height="5.8" rx="0.8" fill="#c6c6c6" stroke="#b4b4b4" stroke-width="0.5"/><text x="1.3" y="-1" font-family="Liberation Sans" font-weight="bold" font-size="5.8" fill="#fff" textLength="17" lengthAdjust="spacingAndGlyphs">STOP</text><circle cx="22.6" cy="-3.1" r="2.3" fill="#fff" stroke="#b4b4b4" stroke-width="1.3"/><rect x="25.6" y="-6" width="19" height="5.8" fill="#efefef"/><text x="26" y="-0.9" font-family="Liberation Sans" font-weight="bold" font-size="6.4" fill="#fbfbfb" stroke="#c8c8c8" stroke-width="0.65" textLength="17.5" lengthAdjust="spacingAndGlyphs">TECH</text></g><g transform="translate(127,362) rotate(-32) scale(1.08)"><rect x="0" y="-5.8" width="19.5" height="5.8" rx="0.8" fill="#c6c6c6" stroke="#b4b4b4" stroke-width="0.5"/><text x="1.3" y="-1" font-family="Liberation Sans" font-weight="bold" font-size="5.8" fill="#fff" textLength="17" lengthAdjust="spacingAndGlyphs">STOP</text><circle cx="22.6" cy="-3.1" r="2.3" fill="#fff" stroke="#b4b4b4" stroke-width="1.3"/><rect x="25.6" y="-6" width="19" height="5.8" fill="#efefef"/><text x="26" y="-0.9" font-family="Liberation Sans" font-weight="bold" font-size="6.4" fill="#fbfbfb" stroke="#c8c8c8" stroke-width="0.65" textLength="17.5" lengthAdjust="spacingAndGlyphs">TECH</text></g><g transform="translate(143,376) rotate(-32) scale(1.08)"><rect x="0" y="-5.8" width="19.5" height="5.8" rx="0.8" fill="#c6c6c6" stroke="#b4b4b4" stroke-width="0.5"/><text x="1.3" y="-1" font-family="Liberation Sans" font-weight="bold" font-size="5.8" fill="#fff" textLength="17" lengthAdjust="spacingAndGlyphs">STOP</text><circle cx="22.6" cy="-3.1" r="2.3" fill="#fff" stroke="#b4b4b4" stroke-width="1.3"/><rect x="25.6" y="-6" width="19" height="5.8" fill="#efefef"/><text x="26" y="-0.9" font-family="Liberation Sans" font-weight="bold" font-size="6.4" fill="#fbfbfb" stroke="#c8c8c8" stroke-width="0.65" textLength="17.5" lengthAdjust="spacingAndGlyphs">TECH</text></g><g transform="translate(159,390) rotate(-32) scale(1.08)"><rect x="0" y="-5.8" width="19.5" height="5.8" rx="0.8" fill="#c6c6c6" stroke="#b4b4b4" stroke-width="0.5"/><text x="1.3" y="-1" font-family="Liberation Sans" font-weight="bold" font-size="5.8" fill="#fff" textLength="17" lengthAdjust="spacingAndGlyphs">STOP</text><circle cx="22.6" cy="-3.1" r="2.3" fill="#fff" stroke="#b4b4b4" stroke-width="1.3"/><rect x="25.6" y="-6" width="19" height="5.8" fill="#efefef"/><text x="26" y="-0.9" font-family="Liberation Sans" font-weight="bold" font-size="6.4" fill="#fbfbfb" stroke="#c8c8c8" stroke-width="0.65" textLength="17.5" lengthAdjust="spacingAndGlyphs">TECH</text></g><g transform="translate(144,348) rotate(-32) scale(1.08)"><rect x="0" y="-5.8" width="19.5" height="5.8" rx="0.8" fill="#c6c6c6" stroke="#b4b4b4" stroke-width="0.5"/><text x="1.3" y="-1" font-family="Liberation Sans" font-weight="bold" font-size="5.8" fill="#fff" textLength="17" lengthAdjust="spacingAndGlyphs">STOP</text><circle cx="22.6" cy="-3.1" r="2.3" fill="#fff" stroke="#b4b4b4" stroke-width="1.3"/><rect x="25.6" y="-6" width="19" height="5.8" fill="#efefef"/><text x="26" y="-0.9" font-family="Liberation Sans" font-weight="bold" font-size="6.4" fill="#fbfbfb" stroke="#c8c8c8" stroke-width="0.65" textLength="17.5" lengthAdjust="spacingAndGlyphs">TECH</text></g><g transform="translate(160,362) rotate(-32) scale(1.08)"><rect x="0" y="-5.8" width="19.5" height="5.8" rx="0.8" fill="#c6c6c6" stroke="#b4b4b4" stroke-width="0.5"/><text x="1.3" y="-1" font-family="Liberation Sans" font-weight="bold" font-size="5.8" fill="#fff" textLength="17" lengthAdjust="spacingAndGlyphs">STOP</text><circle cx="22.6" cy="-3.1" r="2.3" fill="#fff" stroke="#b4b4b4" stroke-width="1.3"/><rect x="25.6" y="-6" width="19" height="5.8" fill="#efefef"/><text x="26" y="-0.9" font-family="Liberation Sans" font-weight="bold" font-size="6.4" fill="#fbfbfb" stroke="#c8c8c8" stroke-width="0.65" textLength="17.5" lengthAdjust="spacingAndGlyphs">TECH</text></g><g transform="translate(176,376) rotate(-32) scale(1.08)"><rect x="0" y="-5.8" width="19.5" height="5.8" rx="0.8" fill="#c6c6c6" stroke="#b4b4b4" stroke-width="0.5"/><text x="1.3" y="-1" font-family="Liberation Sans" font-weight="bold" font-size="5.8" fill="#fff" textLength="17" lengthAdjust="spacingAndGlyphs">STOP</text><circle cx="22.6" cy="-3.1" r="2.3" fill="#fff" stroke="#b4b4b4" stroke-width="1.3"/><rect x="25.6" y="-6" width="19" height="5.8" fill="#efefef"/><text x="26" y="-0.9" font-family="Liberation Sans" font-weight="bold" font-size="6.4" fill="#fbfbfb" stroke="#c8c8c8" stroke-width="0.65" textLength="17.5" lengthAdjust="spacingAndGlyphs">TECH</text></g><g transform="translate(192,390) rotate(-32) scale(1.08)"><rect x="0" y="-5.8" width="19.5" height="5.8" rx="0.8" fill="#c6c6c6" stroke="#b4b4b4" stroke-width="0.5"/><text x="1.3" y="-1" font-family="Liberation Sans" font-weight="bold" font-size="5.8" fill="#fff" textLength="17" lengthAdjust="spacingAndGlyphs">STOP</text><circle cx="22.6" cy="-3.1" r="2.3" fill="#fff" stroke="#b4b4b4" stroke-width="1.3"/><rect x="25.6" y="-6" width="19" height="5.8" fill="#efefef"/><text x="26" y="-0.9" font-family="Liberation Sans" font-weight="bold" font-size="6.4" fill="#fbfbfb" stroke="#c8c8c8" stroke-width="0.65" textLength="17.5" lengthAdjust="spacingAndGlyphs">TECH</text></g><g transform="translate(177,348) rotate(-32) scale(1.08)"><rect x="0" y="-5.8" width="19.5" height="5.8" rx="0.8" fill="#c6c6c6" stroke="#b4b4b4" stroke-width="0.5"/><text x="1.3" y="-1" font-family="Liberation Sans" font-weight="bold" font-size="5.8" fill="#fff" textLength="17" lengthAdjust="spacingAndGlyphs">STOP</text><circle cx="22.6" cy="-3.1" r="2.3" fill="#fff" stroke="#b4b4b4" stroke-width="1.3"/><rect x="25.6" y="-6" width="19" height="5.8" fill="#efefef"/><text x="26" y="-0.9" font-family="Liberation Sans" font-weight="bold" font-size="6.4" fill="#fbfbfb" stroke="#c8c8c8" stroke-width="0.65" textLength="17.5" lengthAdjust="spacingAndGlyphs">TECH</text></g><g transform="translate(193,362) rotate(-32) scale(1.08)"><rect x="0" y="-5.8" width="19.5" height="5.8" rx="0.8" fill="#c6c6c6" stroke="#b4b4b4" stroke-width="0.5"/><text x="1.3" y="-1" font-family="Liberation Sans" font-weight="bold" font-size="5.8" fill="#fff" textLength="17" lengthAdjust="spacingAndGlyphs">STOP</text><circle cx="22.6" cy="-3.1" r="2.3" fill="#fff" stroke="#b4b4b4" stroke-width="1.3"/><rect x="25.6" y="-6" width="19" height="5.8" fill="#efefef"/><text x="26" y="-0.9" font-family="Liberation Sans" font-weight="bold" font-size="6.4" fill="#fbfbfb" stroke="#c8c8c8" stroke-width="0.65" textLength="17.5" lengthAdjust="spacingAndGlyphs">TECH</text></g><g transform="translate(209,376) rotate(-32) scale(1.08)"><rect x="0" y="-5.8" width="19.5" height="5.8" rx="0.8" fill="#c6c6c6" stroke="#b4b4b4" stroke-width="0.5"/><text x="1.3" y="-1" font-family="Liberation Sans" font-weight="bold" font-size="5.8" fill="#fff" textLength="17" lengthAdjust="spacingAndGlyphs">STOP</text><circle cx="22.6" cy="-3.1" r="2.3" fill="#fff" stroke="#b4b4b4" stroke-width="1.3"/><rect x="25.6" y="-6" width="19" height="5.8" fill="#efefef"/><text x="26" y="-0.9" font-family="Liberation Sans" font-weight="bold" font-size="6.4" fill="#fbfbfb" stroke="#c8c8c8" stroke-width="0.65" textLength="17.5" lengthAdjust="spacingAndGlyphs">TECH</text></g><g transform="translate(225,390) rotate(-32) scale(1.08)"><rect x="0" y="-5.8" width="19.5" height="5.8" rx="0.8" fill="#c6c6c6" stroke="#b4b4b4" stroke-width="0.5"/><text x="1.3" y="-1" font-family="Liberation Sans" font-weight="bold" font-size="5.8" fill="#fff" textLength="17" lengthAdjust="spacingAndGlyphs">STOP</text><circle cx="22.6" cy="-3.1" r="2.3" fill="#fff" stroke="#b4b4b4" stroke-width="1.3"/><rect x="25.6" y="-6" width="19" height="5.8" fill="#efefef"/><text x="26" y="-0.9" font-family="Liberation Sans" font-weight="bold" font-size="6.4" fill="#fbfbfb" stroke="#c8c8c8" stroke-width="0.65" textLength="17.5" lengthAdjust="spacingAndGlyphs">TECH</text></g><g transform="translate(210,348) rotate(-32) scale(1.08)"><rect x="0" y="-5.8" width="19.5" height="5.8" rx="0.8" fill="#c6c6c6" stroke="#b4b4b4" stroke-width="0.5"/><text x="1.3" y="-1" font-family="Liberation Sans" font-weight="bold" font-size="5.8" fill="#fff" textLength="17" lengthAdjust="spacingAndGlyphs">STOP</text><circle cx="22.6" cy="-3.1" r="2.3" fill="#fff" stroke="#b4b4b4" stroke-width="1.3"/><rect x="25.6" y="-6" width="19" height="5.8" fill="#efefef"/><text x="26" y="-0.9" font-family="Liberation Sans" font-weight="bold" font-size="6.4" fill="#fbfbfb" stroke="#c8c8c8" stroke-width="0.65" textLength="17.5" lengthAdjust="spacingAndGlyphs">TECH</text></g><g transform="translate(226,362) rotate(-32) scale(1.08)"><rect x="0" y="-5.8" width="19.5" height="5.8" rx="0.8" fill="#c6c6c6" stroke="#b4b4b4" stroke-width="0.5"/><text x="1.3" y="-1" font-family="Liberation Sans" font-weight="bold" font-size="5.8" fill="#fff" textLength="17" lengthAdjust="spacingAndGlyphs">STOP</text><circle cx="22.6" cy="-3.1" r="2.3" fill="#fff" stroke="#b4b4b4" stroke-width="1.3"/><rect x="25.6" y="-6" width="19" height="5.8" fill="#efefef"/><text x="26" y="-0.9" font-family="Liberation Sans" font-weight="bold" font-size="6.4" fill="#fbfbfb" stroke="#c8c8c8" stroke-width="0.65" textLength="17.5" lengthAdjust="spacingAndGlyphs">TECH</text></g><g transform="translate(242,376) rotate(-32) scale(1.08)"><rect x="0" y="-5.8" width="19.5" height="5.8" rx="0.8" fill="#c6c6c6" stroke="#b4b4b4" stroke-width="0.5"/><text x="1.3" y="-1" font-family="Liberation Sans" font-weight="bold" font-size="5.8" fill="#fff" textLength="17" lengthAdjust="spacingAndGlyphs">STOP</text><circle cx="22.6" cy="-3.1" r="2.3" fill="#fff" stroke="#b4b4b4" stroke-width="1.3"/><rect x="25.6" y="-6" width="19" height="5.8" fill="#efefef"/><text x="26" y="-0.9" font-family="Liberation Sans" font-weight="bold" font-size="6.4" fill="#fbfbfb" stroke="#c8c8c8" stroke-width="0.65" textLength="17.5" lengthAdjust="spacingAndGlyphs">TECH</text></g><g transform="translate(258,390) rotate(-32) scale(1.08)"><rect x="0" y="-5.8" width="19.5" height="5.8" rx="0.8" fill="#c6c6c6" stroke="#b4b4b4" stroke-width="0.5"/><text x="1.3" y="-1" font-family="Liberation Sans" font-weight="bold" font-size="5.8" fill="#fff" textLength="17" lengthAdjust="spacingAndGlyphs">STOP</text><circle cx="22.6" cy="-3.1" r="2.3" fill="#fff" stroke="#b4b4b4" stroke-width="1.3"/><rect x="25.6" y="-6" width="19" height="5.8" fill="#efefef"/><text x="26" y="-0.9" font-family="Liberation Sans" font-weight="bold" font-size="6.4" fill="#fbfbfb" stroke="#c8c8c8" stroke-width="0.65" textLength="17.5" lengthAdjust="spacingAndGlyphs">TECH</text></g><g transform="translate(243,348) rotate(-32) scale(1.08)"><rect x="0" y="-5.8" width="19.5" height="5.8" rx="0.8" fill="#c6c6c6" stroke="#b4b4b4" stroke-width="0.5"/><text x="1.3" y="-1" font-family="Liberation Sans" font-weight="bold" font-size="5.8" fill="#fff" textLength="17" lengthAdjust="spacingAndGlyphs">STOP</text><circle cx="22.6" cy="-3.1" r="2.3" fill="#fff" stroke="#b4b4b4" stroke-width="1.3"/><rect x="25.6" y="-6" width="19" height="5.8" fill="#efefef"/><text x="26" y="-0.9" font-family="Liberation Sans" font-weight="bold" font-size="6.4" fill="#fbfbfb" stroke="#c8c8c8" stroke-width="0.65" textLength="17.5" lengthAdjust="spacingAndGlyphs">TECH</text></g><g transform="translate(259,362) rotate(-32) scale(1.08)"><rect x="0" y="-5.8" width="19.5" height="5.8" rx="0.8" fill="#c6c6c6" stroke="#b4b4b4" stroke-width="0.5"/><text x="1.3" y="-1" font-family="Liberation Sans" font-weight="bold" font-size="5.8" fill="#fff" textLength="17" lengthAdjust="spacingAndGlyphs">STOP</text><circle cx="22.6" cy="-3.1" r="2.3" fill="#fff" stroke="#b4b4b4" stroke-width="1.3"/><rect x="25.6" y="-6" width="19" height="5.8" fill="#efefef"/><text x="26" y="-0.9" font-family="Liberation Sans" font-weight="bold" font-size="6.4" fill="#fbfbfb" stroke="#c8c8c8" stroke-width="0.65" textLength="17.5" lengthAdjust="spacingAndGlyphs">TECH</text></g><g transform="translate(275,376) rotate(-32) scale(1.08)"><rect x="0" y="-5.8" width="19.5" height="5.8" rx="0.8" fill="#c6c6c6" stroke="#b4b4b4" stroke-width="0.5"/><text x="1.3" y="-1" font-family="Liberation Sans" font-weight="bold" font-size="5.8" fill="#fff" textLength="17" lengthAdjust="spacingAndGlyphs">STOP</text><circle cx="22.6" cy="-3.1" r="2.3" fill="#fff" stroke="#b4b4b4" stroke-width="1.3"/><rect x="25.6" y="-6" width="19" height="5.8" fill="#efefef"/><text x="26" y="-0.9" font-family="Liberation Sans" font-weight="bold" font-size="6.4" fill="#fbfbfb" stroke="#c8c8c8" stroke-width="0.65" textLength="17.5" lengthAdjust="spacingAndGlyphs">TECH</text></g><g transform="translate(291,390) rotate(-32) scale(1.08)"><rect x="0" y="-5.8" width="19.5" height="5.8" rx="0.8" fill="#c6c6c6" stroke="#b4b4b4" stroke-width="0.5"/><text x="1.3" y="-1" font-family="Liberation Sans" font-weight="bold" font-size="5.8" fill="#fff" textLength="17" lengthAdjust="spacingAndGlyphs">STOP</text><circle cx="22.6" cy="-3.1" r="2.3" fill="#fff" stroke="#b4b4b4" stroke-width="1.3"/><rect x="25.6" y="-6" width="19" height="5.8" fill="#efefef"/><text x="26" y="-0.9" font-family="Liberation Sans" font-weight="bold" font-size="6.4" fill="#fbfbfb" stroke="#c8c8c8" stroke-width="0.65" textLength="17.5" lengthAdjust="spacingAndGlyphs">TECH</text></g><g transform="translate(276,348) rotate(-32) scale(1.08)"><rect x="0" y="-5.8" width="19.5" height="5.8" rx="0.8" fill="#c6c6c6" stroke="#b4b4b4" stroke-width="0.5"/><text x="1.3" y="-1" font-family="Liberation Sans" font-weight="bold" font-size="5.8" fill="#fff" textLength="17" lengthAdjust="spacingAndGlyphs">STOP</text><circle cx="22.6" cy="-3.1" r="2.3" fill="#fff" stroke="#b4b4b4" stroke-width="1.3"/><rect x="25.6" y="-6" width="19" height="5.8" fill="#efefef"/><text x="26" y="-0.9" font-family="Liberation Sans" font-weight="bold" font-size="6.4" fill="#fbfbfb" stroke="#c8c8c8" stroke-width="0.65" textLength="17.5" lengthAdjust="spacingAndGlyphs">TECH</text></g><g transform="translate(292,362) rotate(-32) scale(1.08)"><rect x="0" y="-5.8" width="19.5" height="5.8" rx="0.8" fill="#c6c6c6" stroke="#b4b4b4" stroke-width="0.5"/><text x="1.3" y="-1" font-family="Liberation Sans" font-weight="bold" font-size="5.8" fill="#fff" textLength="17" lengthAdjust="spacingAndGlyphs">STOP</text><circle cx="22.6" cy="-3.1" r="2.3" fill="#fff" stroke="#b4b4b4" stroke-width="1.3"/><rect x="25.6" y="-6" width="19" height="5.8" fill="#efefef"/><text x="26" y="-0.9" font-family="Liberation Sans" font-weight="bold" font-size="6.4" fill="#fbfbfb" stroke="#c8c8c8" stroke-width="0.65" textLength="17.5" lengthAdjust="spacingAndGlyphs">TECH</text></g><g transform="translate(308,376) rotate(-32) scale(1.08)"><rect x="0" y="-5.8" width="19.5" height="5.8" rx="0.8" fill="#c6c6c6" stroke="#b4b4b4" stroke-width="0.5"/><text x="1.3" y="-1" font-family="Liberation Sans" font-weight="bold" font-size="5.8" fill="#fff" textLength="17" lengthAdjust="spacingAndGlyphs">STOP</text><circle cx="22.6" cy="-3.1" r="2.3" fill="#fff" stroke="#b4b4b4" stroke-width="1.3"/><rect x="25.6" y="-6" width="19" height="5.8" fill="#efefef"/><text x="26" y="-0.9" font-family="Liberation Sans" font-weight="bold" font-size="6.4" fill="#fbfbfb" stroke="#c8c8c8" stroke-width="0.65" textLength="17.5" lengthAdjust="spacingAndGlyphs">TECH</text></g><g transform="translate(324,390) rotate(-32) scale(1.08)"><rect x="0" y="-5.8" width="19.5" height="5.8" rx="0.8" fill="#c6c6c6" stroke="#b4b4b4" stroke-width="0.5"/><text x="1.3" y="-1" font-family="Liberation Sans" font-weight="bold" font-size="5.8" fill="#fff" textLength="17" lengthAdjust="spacingAndGlyphs">STOP</text><circle cx="22.6" cy="-3.1" r="2.3" fill="#fff" stroke="#b4b4b4" stroke-width="1.3"/><rect x="25.6" y="-6" width="19" height="5.8" fill="#efefef"/><text x="26" y="-0.9" font-family="Liberation Sans" font-weight="bold" font-size="6.4" fill="#fbfbfb" stroke="#c8c8c8" stroke-width="0.65" textLength="17.5" lengthAdjust="spacingAndGlyphs">TECH</text></g><g transform="translate(309,348) rotate(-32) scale(1.08)"><rect x="0" y="-5.8" width="19.5" height="5.8" rx="0.8" fill="#c6c6c6" stroke="#b4b4b4" stroke-width="0.5"/><text x="1.3" y="-1" font-family="Liberation Sans" font-weight="bold" font-size="5.8" fill="#fff" textLength="17" lengthAdjust="spacingAndGlyphs">STOP</text><circle cx="22.6" cy="-3.1" r="2.3" fill="#fff" stroke="#b4b4b4" stroke-width="1.3"/><rect x="25.6" y="-6" width="19" height="5.8" fill="#efefef"/><text x="26" y="-0.9" font-family="Liberation Sans" font-weight="bold" font-size="6.4" fill="#fbfbfb" stroke="#c8c8c8" stroke-width="0.65" textLength="17.5" lengthAdjust="spacingAndGlyphs">TECH</text></g><g transform="translate(325,362) rotate(-32) scale(1.08)"><rect x="0" y="-5.8" width="19.5" height="5.8" rx="0.8" fill="#c6c6c6" stroke="#b4b4b4" stroke-width="0.5"/><text x="1.3" y="-1" font-family="Liberation Sans" font-weight="bold" font-size="5.8" fill="#fff" textLength="17" lengthAdjust="spacingAndGlyphs">STOP</text><circle cx="22.6" cy="-3.1" r="2.3" fill="#fff" stroke="#b4b4b4" stroke-width="1.3"/><rect x="25.6" y="-6" width="19" height="5.8" fill="#efefef"/><text x="26" y="-0.9" font-family="Liberation Sans" font-weight="bold" font-size="6.4" fill="#fbfbfb" stroke="#c8c8c8" stroke-width="0.65" textLength="17.5" lengthAdjust="spacingAndGlyphs">TECH</text></g></g>
<g stroke="#3a3a3a" stroke-width="1" fill="none">
  <path d="M146.6,350.5 L146.6,363.7 L232.8,363.7 L232.8,355.5 Q234.8,352.5 236.9,355.5 L236.9,363.7 L322.2,363.7 L322.2,350.5"/>
  <rect x="233.3" y="356" width="3.1" height="8.5" fill="#fff" stroke="none"/>
  <rect x="107.7" y="344" width="253.3" height="6.5" fill="#fff"/>
  <line x1="115" y1="344" x2="115" y2="350.5"/>
  <line x1="124" y1="344" x2="124" y2="350.5"/>
  <line x1="126.8" y1="344" x2="126.8" y2="350.5"/>
  <line x1="226" y1="344" x2="226" y2="350.5"/>
  <line x1="243.4" y1="344" x2="243.4" y2="350.5"/>
  <line x1="342" y1="344" x2="342" y2="350.5"/>
  <line x1="344" y1="344" x2="344" y2="350.5"/>
  <line x1="353.5" y1="344" x2="353.5" y2="350.5"/>
  <path d="M183.8,344 L183.8,341.3 L191.6,341.3 L191.6,344"/>
  <path d="M277.2,344 L277.2,341.3 L284.7,341.3 L284.7,344"/>
</g>
<line x1="85" y1="344" x2="106" y2="344" stroke="#999" stroke-width="0.8"/>
<line x1="85" y1="364" x2="146" y2="364" stroke="#555" stroke-width="0.9"/>
<line x1="90" y1="344.3" x2="90" y2="349.8" stroke="#222" stroke-width="1" marker-start="url(#as)"/>
<line x1="90" y1="358.6" x2="90" y2="363.7" stroke="#222" stroke-width="1" marker-end="url(#as)"/>

<!-- dimension texts -->
<g font-family="Liberation Sans" font-weight="bold" font-size="9.8" fill="#151515" stroke="#151515" stroke-width="0.35">
<text transform="translate(220.8,90.8) skewX(-10)" x="0" y="0" textLength="28.3" lengthAdjust="spacingAndGlyphs">183.5</text>
<text transform="translate(77.8,279.5) skewX(-10)" x="0" y="0" textLength="22" lengthAdjust="spacingAndGlyphs">60.8</text>
<text transform="translate(77.8,214) skewX(-10)" x="0" y="0" textLength="22" lengthAdjust="spacingAndGlyphs">15.5</text>
<text transform="translate(77.8,357.5) skewX(-10)" x="0" y="0" textLength="22" lengthAdjust="spacingAndGlyphs">15.5</text>
</g>

<!-- ===== Photo 1 ===== -->
<defs><filter id="bl" x="-5%" y="-5%" width="110%" height="110%"><feGaussianBlur stdDeviation="0.35"/></filter></defs><g filter="url(#bl)"><path d="M435.5,108.75 C435.5,108.31 437.44,106.56 438,106.25 C438.56,105.94 440.6,105.47 441.1,105.6 C441.6,105.72 441.44,107.37 443,107.5 C444.56,107.63 453.88,106.53 456.75,106.9 C459.62,107.28 469.75,110.38 471.75,111.25 C473.75,112.12 476.12,114.91 476.75,115.6 C477.38,116.28 477.25,117.85 478,118.1 C478.75,118.35 483.38,117.91 484.25,118.1 C485.12,118.29 486.88,119.5 486.75,120 C486.62,120.5 483.88,122.72 483,123.1 C482.12,123.47 479.5,123.44 478,123.75 C476.5,124.06 470.25,126.12 468,126.25 C465.75,126.38 457.75,125.5 455.5,125 C453.25,124.5 446.94,122.12 445.5,121.25 C444.06,120.38 441.85,117.31 441.1,116.25 C440.35,115.19 438.56,111.35 438,110.6 C437.44,109.85 435.5,109.19 435.5,108.75Z" fill="#6e7074"/><path d="M441.1,114.5 C441.25,114.12 445.51,116.9 447,117.5 C448.49,118.1 453.9,120.1 456,120.5 C458.1,120.9 465.9,121.57 468,121.5 C470.1,121.43 476,119.58 477,119.8 C478,120.02 478.9,123.11 478,123.75 C477.1,124.39 470.25,126.12 468,126.25 C465.75,126.38 457.75,125.5 455.5,125 C453.25,124.5 446.94,122.3 445.5,121.25 C444.06,120.2 440.95,114.88 441.1,114.5Z" fill="#5e6064"/><path d="M402.4,130 C402.52,129.69 404.69,128.41 405.5,128.1 C406.31,127.79 409,127.02 410.5,126.9 C412,126.78 418,126.72 420.5,126.9 C423,127.09 433.25,128.19 435.5,128.75 C437.75,129.31 441.5,131.38 443,132.5 C444.5,133.62 449.5,138.94 450.5,140 C451.5,141.06 452.44,142.66 453,143.1 C453.56,143.54 455.98,143.96 456.1,144.4 C456.23,144.84 454.81,147 454.25,147.5 C453.69,148 452.38,149.34 450.5,149.4 C448.62,149.46 438.5,148.66 435.5,148.1 C432.5,147.53 422.75,144.56 420.5,143.75 C418.25,142.94 414.06,140.88 413,140 C411.94,139.12 410.4,135.88 409.9,135 C409.4,134.12 408.56,131.62 408,131.25 C407.44,130.88 404.81,131.38 404.25,131.25 C403.69,131.12 402.27,130.31 402.4,130Z" fill="#6e7074"/><path d="M409.9,134 C410.1,133.75 413.19,136.75 415,137.5 C416.81,138.25 425.4,140.85 428,141.5 C430.6,142.15 438.6,143.79 441,144 C443.4,144.21 451.05,143.06 452,143.6 C452.95,144.14 452.15,148.95 450.5,149.4 C448.85,149.85 438.5,148.66 435.5,148.1 C432.5,147.53 422.75,144.56 420.5,143.75 C418.25,142.94 414.06,140.97 413,140 C411.94,139.03 409.7,134.25 409.9,134Z" fill="#5e6064"/><circle cx="414" cy="135" r="0.9" fill="#4a4c50"/><circle cx="414" cy="138.5" r="0.9" fill="#4a4c50"/><circle cx="432" cy="142" r="0.9" fill="#4a4c50"/><circle cx="445" cy="113" r="0.8" fill="#4a4c50"/><circle cx="467" cy="120" r="0.8" fill="#4a4c50"/><path d="M490.5,128 C490.83,127.08 492.75,124.58 494,124 C495.25,123.42 496.83,124.33 498,124.5 C499.17,124.67 499.67,125.25 501,125 C502.33,124.75 503.83,123.5 506,123 C508.17,122.5 510.33,121.58 514,122 C517.67,122.42 523.33,124.33 528,125.5 C532.67,126.67 538.67,127.42 542,129 C545.33,130.58 546.5,133.33 548,135 C549.5,136.67 548.83,138.25 551,139 C553.17,139.75 558.92,139 561,139.5 C563.08,140 564,140.75 563.5,142 C563,143.25 560.92,146.17 558,147 C555.08,147.83 550.5,147.25 546,147 C541.5,146.75 536,146.17 531,145.5 C526,144.83 520.5,144.25 516,143 C511.5,141.75 507.17,139.67 504,138 C500.83,136.33 499,134.42 497,133 C495,131.58 493.08,130.33 492,129.5 C490.92,128.67 490.17,128.92 490.5,128Z" fill="#595b5d"/><path d="M501,125.5 C502.67,124.42 504.83,122.58 509,122.5 C513.17,122.42 520.5,123.92 526,125 C531.5,126.08 538.5,127.5 542,129 C545.5,130.5 545.67,132.33 547,134 C548.33,135.67 550.17,137.67 550,139 C549.83,140.33 549.17,141.67 546,142 C542.83,142.33 536,141.5 531,141 C526,140.5 520.17,140 516,139 C511.83,138 508.83,136.67 506,135 C503.17,133.33 499.83,130.58 499,129 C498.17,127.42 499.33,126.58 501,125.5Z" fill="#8d8c74"/><line x1="527.5" y1="125.5" x2="514" y2="139.5" stroke="#5a5a4a" stroke-width="0.9"/><path d="M456.2,152.5 C456.91,151.55 459.92,149.83 461.5,149.4 C463.08,148.97 464.48,149.82 465.7,149.9 C466.92,149.98 467.05,150.43 468.8,149.9 C470.55,149.37 473.22,147.05 476.2,146.7 C479.18,146.35 482.5,147 486.7,147.8 C490.9,148.6 496.68,149.84 501.4,151.5 C506.12,153.16 511.68,155.83 515,157.75 C518.32,159.67 519.72,160.89 521.3,163 C522.88,165.11 522.92,168.65 524.5,170.4 C526.08,172.15 529.58,172.45 530.8,173.5 C532.02,174.55 532.33,175.47 531.8,176.7 C531.27,177.93 530.05,180.38 527.6,180.9 C525.15,181.42 521.82,180.68 517.1,179.8 C512.38,178.92 504.9,177.35 499.3,175.6 C493.7,173.85 487.88,171.23 483.5,169.3 C479.12,167.37 475.62,165.93 473,164 C470.38,162.07 469.5,159.14 467.75,157.75 C466,156.36 464.25,156.09 462.5,155.65 C460.75,155.21 458.3,155.62 457.25,155.1 C456.2,154.57 455.49,153.45 456.2,152.5Z" fill="#595b5d"/><path d="M468.8,150.4 C470.21,149.26 472.87,147.05 476.2,146.7 C479.53,146.35 484.6,147.5 488.8,148.3 C493,149.1 497.03,149.93 501.4,151.5 C505.77,153.07 511.85,155.83 515,157.75 C518.15,159.67 519.07,161.24 520.3,163 C521.53,164.76 523.28,167.07 522.4,168.3 C521.52,169.53 518.85,170.23 515,170.4 C511.15,170.57 504.55,170.18 499.3,169.3 C494.05,168.42 487.88,166.67 483.5,165.1 C479.12,163.53 475.62,161.82 473,159.9 C470.38,157.98 468.45,155.13 467.75,153.55 C467.05,151.97 467.39,151.54 468.8,150.4Z" fill="#8d8c74"/><line x1="500.3" y1="151" x2="483.5" y2="164.5" stroke="#5a5a4a" stroke-width="0.9"/></g>

<!-- ===== Photo 2 ===== -->
<g filter="url(#bl)"><path d="M583.5,133.08L587.98,134.43L590.43,131.46C597.36,137.4 607.95,142.26 620.99,142.26C636.48,142.26 648.7,138.75 658.07,131.46L660.52,134.43L665,133.08L665,122.82L661.74,119.85L658.48,122.01C653.59,117.96 647.07,115.8 634.03,115.8L611.21,115.8C601.43,115.8 594.91,117.96 590.02,122.01L586.76,119.85L583.5,122.82Z" fill="#45494d"/><path d="M585.1,154.96L589.46,153.72L591.84,156.46C598.58,150.98 608.89,146.5 621.58,146.5C636.64,146.5 648.54,149.74 657.66,156.46L660.04,153.72L664.4,154.96L664.4,164.43L661.23,167.16L658.06,165.17C653.3,168.91 646.95,170.9 634.27,170.9L612.06,170.9C602.55,170.9 596.2,168.91 591.44,165.17L588.27,167.16L585.1,164.43Z" fill="#45494d"/><path d="M667.1,132.44L671.38,133.74L673.71,130.88C680.33,136.6 690.44,141.28 702.89,141.28C717.67,141.28 729.34,137.9 738.29,130.88L740.62,133.74L744.9,132.44L744.9,122.56L741.79,119.7L738.68,121.78C734.01,117.88 727.78,115.8 715.34,115.8L693.55,115.8C684.22,115.8 677.99,117.88 673.32,121.78L670.21,119.7L667.1,122.56Z" fill="#4a4e51"/><path d="M678.77,134C684.22,137.9 692.77,140.5 702.89,140.5C716.89,140.5 727.78,138.68 734.79,134L734.79,121C730.9,118.4 726.23,116.32 715.34,116.32L693.55,116.32C685.77,116.32 681.1,118.4 678.77,120.48Z" fill="#8a8b76"/><path d="M667.1,154.82L671.33,153.59L673.64,156.29C680.17,150.9 690.17,146.49 702.47,146.49C717.09,146.49 728.62,149.68 737.46,156.29L739.77,153.59L744,154.82L744,164.13L740.92,166.82L737.85,164.87C733.23,168.54 727.08,170.5 714.78,170.5L693.25,170.5C684.02,170.5 677.87,168.54 673.25,164.87L670.18,166.82L667.1,164.13Z" fill="#4a4e51"/><path d="M678.63,153.35C684.02,149.68 692.48,147.22 702.47,147.22C716.32,147.22 727.08,148.94 734,153.35L734,165.6C730.16,168.05 725.54,170.01 714.78,170.01L693.25,170.01C685.56,170.01 680.94,168.05 678.63,166.09Z" fill="#8a8b76"/><line x1="708.1" y1="116.5" x2="708.1" y2="141.3" stroke="#4e4f44" stroke-width="0.9"/><line x1="707" y1="146.3" x2="707" y2="170.3" stroke="#4e4f44" stroke-width="0.9"/><rect x="622" y="141.5" width="5" height="2" fill="#45494d"/><rect x="622" y="144.8" width="5" height="1.8" fill="#45494d"/><rect x="705" y="141.5" width="5" height="2" fill="#4a4e51"/><rect x="705" y="144.8" width="5" height="1.8" fill="#4a4e51"/></g>

<!-- ===== Photo 3 ===== -->
<g>
  <path d="M402.5,302 L404,300.4 L562,300.4 L563,302 L563,306.6 L402.5,306.6 Z" fill="#4e5155"/>
  <rect x="424.1" y="306.6" width="117.5" height="7.9" fill="#5b5e62"/>
  <rect x="491.5" y="301.5" width="33.5" height="4" fill="#5d6064"/>
  <rect x="481.2" y="310" width="2.8" height="5" fill="#fff"/>
  <path d="M474,301 L475,299 L488.5,299 L489.5,301 Z" fill="#46494d"/>
  <rect x="404" y="302" width="1" height="4" fill="#8a8d90"/>
  <rect x="559" y="302" width="1" height="4" fill="#8a8d90"/>
</g>

<!-- ===== Warning triangle ===== -->
<defs><linearGradient id="rg" x1="0" y1="0" x2="0" y2="1"><stop offset="0" stop-color="#d24a4a"/><stop offset="1" stop-color="#b52f31"/></linearGradient></defs>
<g>
  <path d="M67.8,555.6 L80.6,577.6 L55.2,577.6 Z" fill="url(#rg)" stroke="#9a2a2c" stroke-width="1" stroke-linejoin="round"/>
  <path d="M67.8,561.6 L74.8,574.4 L60.8,574.4 Z" fill="#f5f1f1"/>
  <path d="M66.8,564 L68.8,564 L68.4,570.8 L67.2,570.8 Z" fill="#111"/>
  <rect x="67" y="571.8" width="1.6" height="2" fill="#111"/>
</g>
</svg>

<!-- bars -->
<div class="bar" style="left:39px;top:20.8px;width:722.8px;height:33.6px;"></div>
<div class="bar" style="left:39px;top:410.5px;width:344px;height:29.9px;"></div>
<div class="bar" style="left:386.2px;top:410.5px;width:210.6px;height:29.9px;"></div>
<div class="bar" style="left:599.8px;top:410.5px;width:162.7px;height:29.9px;"></div>

<div class="t w l" style="left:52px;top:21.8px;font-size:31px;letter-spacing:2.4px;transform:scaleX(0.70);">309.08040</div>
<div class="t w r" style="left:447.5px;top:23.1px;width:300px;font-size:31px;letter-spacing:1.2px;transform:scaleX(0.74);">Brake Pad</div>

<div class="t w c" style="left:24px;top:417px;width:200px;font-size:16px;transform:scaleX(0.82);">Inner Brake Pads Specs</div>
<div class="t w c" style="left:198px;top:417px;width:200px;font-size:16px;transform:scaleX(0.82);">Outer Brake Pads Specs</div>
<div class="t w c" style="left:392px;top:417px;width:200px;font-size:16px;transform:scaleX(0.83);">FMSI #</div>
<div class="t w c" style="left:581px;top:417px;width:200px;font-size:16px;transform:scaleX(0.81);">Related Parts</div>

<div class="t k r" style="left:-142px;top:443.98px;width:300px;font-size:11.5px;transform:scaleX(0.861);">Inner Pad Width:</div>
<div class="t k r" style="left:-142px;top:459.88px;width:300px;font-size:11.5px;transform:scaleX(0.861);">Inner Pad Height:</div>
<div class="t k r" style="left:-142px;top:475.78px;width:300px;font-size:11.5px;transform:scaleX(0.861);">Inner Pad Thk w/o Shim:</div>
<div class="t k r" style="left:-142px;top:491.68px;width:300px;font-size:11.5px;transform:scaleX(0.861);">Sensor Wire Length:</div>
<div class="t k l" style="left:161.5px;top:443.98px;font-size:11.5px;transform:scaleX(0.861);">183.5</div>
<div class="t k l" style="left:161.5px;top:459.88px;font-size:11.5px;transform:scaleX(0.861);">60.8</div>
<div class="t k l" style="left:161.5px;top:475.78px;font-size:11.5px;transform:scaleX(0.861);">15.5</div>

<div class="t k r" style="left:34px;top:443.98px;width:300px;font-size:11.5px;transform:scaleX(0.861);">Outer Pad Width:</div>
<div class="t k r" style="left:34px;top:459.88px;width:300px;font-size:11.5px;transform:scaleX(0.861);">Outer Pad Height:</div>
<div class="t k r" style="left:34px;top:475.78px;width:300px;font-size:11.5px;transform:scaleX(0.861);">Outer Pad Thk w/o Shim:</div>
<div class="t k l" style="left:338.5px;top:443.98px;font-size:11.5px;transform:scaleX(0.861);">183.5</div>
<div class="t k l" style="left:338.5px;top:459.88px;font-size:11.5px;transform:scaleX(0.861);">60.8</div>
<div class="t k l" style="left:338.5px;top:475.78px;font-size:11.5px;transform:scaleX(0.861);">15.5</div>

<div class="t k l" style="left:392px;top:443.98px;font-size:11.5px;transform:scaleX(0.832);">FMSI:&nbsp;&nbsp;D804</div>
<div class="t k l" style="left:392px;top:459.88px;font-size:11.5px;transform:scaleX(0.832);">FMSI:</div>
<div class="t k l" style="left:392px;top:475.78px;font-size:11.5px;transform:scaleX(0.832);">FMSI:</div>
<div class="t k l" style="left:392px;top:491.68px;font-size:11.5px;transform:scaleX(0.832);">FMSI:</div>
<div class="t k l" style="left:392px;top:507.58px;font-size:11.5px;transform:scaleX(0.832);">FMSI:</div>
<div class="t k l" style="left:392px;top:523.48px;font-size:11.5px;transform:scaleX(0.832);">FMSI:</div>
<div class="t k l" style="left:392px;top:539.38px;font-size:11.5px;transform:scaleX(0.832);">FMSI:</div>
<div class="t k l" style="left:496.5px;top:443.98px;font-size:11.5px;transform:scaleX(0.832);">FMSI:</div>
<div class="t k l" style="left:496.5px;top:459.88px;font-size:11.5px;transform:scaleX(0.832);">FMSI:</div>
<div class="t k l" style="left:496.5px;top:475.78px;font-size:11.5px;transform:scaleX(0.832);">FMSI:</div>
<div class="t k l" style="left:496.5px;top:491.68px;font-size:11.5px;transform:scaleX(0.832);">FMSI:</div>
<div class="t k l" style="left:496.5px;top:507.58px;font-size:11.5px;transform:scaleX(0.832);">FMSI:</div>
<div class="t k l" style="left:496.5px;top:523.48px;font-size:11.5px;transform:scaleX(0.832);">FMSI:</div>
<div class="t k l" style="left:496.5px;top:539.38px;font-size:11.5px;transform:scaleX(0.832);">FMSI:</div>

<div class="t k l" style="left:604px;top:443.98px;font-size:11.5px;transform:scaleX(0.845);">Hardware Kit #:</div>

<div class="t k l" style="left:96px;top:554.8px;font-size:14px;transform:scaleX(0.9);">Note 1:</div>
<div class="t k l" style="left:96px;top:573.1px;font-size:14px;transform:scaleX(0.9);">Note 2:</div>
</body></html>
